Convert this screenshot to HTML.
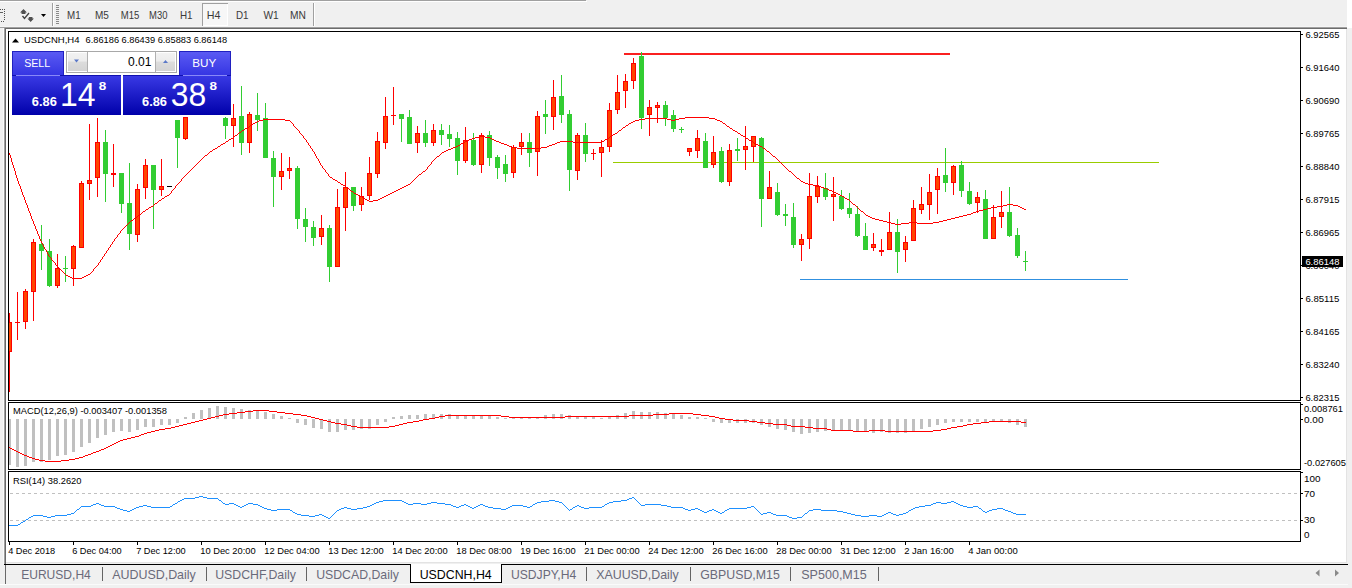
<!DOCTYPE html>
<html><head><meta charset="utf-8"><title>USDCNH,H4</title>
<style>html,body{margin:0;padding:0;width:1352px;height:588px;overflow:hidden;background:#f0f0f0;}svg{display:block;font-family:"Liberation Sans",sans-serif;}</style>
</head><body>
<svg width="1352" height="588" viewBox="0 0 1352 588" font-family='"Liberation Sans", sans-serif'><rect x="0" y="0" width="1352" height="588" fill="#f0f0f0"/>
<rect x="0" y="0" width="586" height="1" fill="#a0a0a0"/>
<rect x="0" y="1" width="587" height="1" fill="#ffffff"/>
<rect x="1347" y="0" width="5" height="28" fill="#ffffff"/>
<rect x="0" y="26" width="1347" height="1" fill="#f5f5f5"/>
<rect x="0" y="27" width="1347" height="1" fill="#a0a0a0"/>
<rect x="0" y="9" width="1" height="1" fill="#505050"/>
<rect x="2" y="9" width="1" height="1" fill="#505050"/>
<rect x="4" y="9" width="1" height="1" fill="#505050"/>
<rect x="4" y="11" width="1" height="1" fill="#505050"/>
<rect x="4" y="13" width="1" height="1" fill="#505050"/>
<rect x="4" y="15" width="1" height="1" fill="#505050"/>
<rect x="4" y="17" width="1" height="1" fill="#505050"/>
<rect x="4" y="19" width="1" height="1" fill="#505050"/>
<rect x="1" y="21" width="1" height="1" fill="#505050"/>
<rect x="3" y="21" width="1" height="1" fill="#505050"/>
<rect x="0" y="12" width="3" height="1" fill="#606060"/>
<path d="M20,12.5 L23.5,9 L27,12.5 L25.5,12.5 L25.5,14 L21.5,14 L21.5,12.5 Z" fill="#505050" stroke="#fff" stroke-width="0.7" paint-order="stroke"/>
<path d="M22.5,16 L24.5,18.5 L29,13" fill="none" stroke="#404040" stroke-width="1.3"/>
<path d="M28.8,17 L32.5,17 L32.5,18.5 L34,18.5 L30.7,22 L27.3,18.5 L28.8,18.5 Z" fill="#505050" stroke="#fff" stroke-width="0.7" paint-order="stroke"/>
<path d="M41,14 L46,14 L43.5,17 Z" fill="#000"/>
<rect x="52" y="3" width="1" height="23" fill="#a0a0a0"/>
<rect x="53" y="3" width="1" height="23" fill="#ffffff"/>
<rect x="56" y="5" width="3" height="1" fill="#8a8a8a"/>
<rect x="56" y="7" width="3" height="1" fill="#8a8a8a"/>
<rect x="56" y="9" width="3" height="1" fill="#8a8a8a"/>
<rect x="56" y="11" width="3" height="1" fill="#8a8a8a"/>
<rect x="56" y="13" width="3" height="1" fill="#8a8a8a"/>
<rect x="56" y="15" width="3" height="1" fill="#8a8a8a"/>
<rect x="56" y="17" width="3" height="1" fill="#8a8a8a"/>
<rect x="56" y="19" width="3" height="1" fill="#8a8a8a"/>
<rect x="56" y="21" width="3" height="1" fill="#8a8a8a"/>
<rect x="56" y="23" width="3" height="1" fill="#8a8a8a"/>
<rect x="202" y="3" width="26" height="23" fill="#f7f7f7"/>
<rect x="202" y="3" width="26" height="1" fill="#a0a0a0"/>
<rect x="202" y="3" width="1" height="23" fill="#a0a0a0"/>
<rect x="227" y="4" width="1" height="22" fill="#ffffff"/>
<rect x="203" y="25" width="25" height="1" fill="#ffffff"/>
<text x="67.0" y="19" font-size="10.4" fill="#3a3a3a" textLength="13.6" lengthAdjust="spacingAndGlyphs">M1</text>
<text x="94.9" y="19" font-size="10.4" fill="#3a3a3a" textLength="13.9" lengthAdjust="spacingAndGlyphs">M5</text>
<text x="120.80000000000001" y="19" font-size="10.4" fill="#3a3a3a" textLength="18.6" lengthAdjust="spacingAndGlyphs">M15</text>
<text x="149.0" y="19" font-size="10.4" fill="#3a3a3a" textLength="18.4" lengthAdjust="spacingAndGlyphs">M30</text>
<text x="180.0" y="19" font-size="10.4" fill="#3a3a3a" textLength="12.6" lengthAdjust="spacingAndGlyphs">H1</text>
<text x="206.70000000000002" y="19" font-size="10.4" fill="#3a3a3a" textLength="13.7" lengthAdjust="spacingAndGlyphs">H4</text>
<text x="236.0" y="19" font-size="10.4" fill="#3a3a3a" textLength="12.6" lengthAdjust="spacingAndGlyphs">D1</text>
<text x="263.4" y="19" font-size="10.4" fill="#3a3a3a" textLength="15.3" lengthAdjust="spacingAndGlyphs">W1</text>
<text x="289.9" y="19" font-size="10.4" fill="#3a3a3a" textLength="15.9" lengthAdjust="spacingAndGlyphs">MN</text>
<rect x="313" y="3" width="1" height="23" fill="#a0a0a0"/>
<rect x="314" y="3" width="1" height="23" fill="#ffffff"/>
<rect x="3" y="28" width="1" height="536" fill="#fafafa"/>
<rect x="4" y="28" width="1343" height="1" fill="#a0a0a0"/>
<rect x="4" y="28" width="1" height="536" fill="#a0a0a0"/>
<rect x="5" y="28" width="1" height="536" fill="#696969"/>
<rect x="5" y="28" width="1342" height="1" fill="#6c6c6c"/>
<rect x="6" y="29" width="1341" height="534" fill="#ffffff"/>
<rect x="1346" y="29" width="1" height="534" fill="#e3e3e3"/>
<rect x="6" y="562" width="1341" height="1" fill="#e3e3e3"/>
<g shape-rendering="crispEdges">
<rect x="624" y="53" width="326" height="2" fill="#fa2020"/>
<rect x="613" y="162" width="546" height="1" fill="#99cc00"/>
<rect x="800" y="279" width="328" height="1" fill="#3090e0"/>
</g>
<svg x="9" y="32" width="1291" height="368" viewBox="9 32 1291 368" overflow="hidden"><g shape-rendering="crispEdges"><rect x="9" y="313" width="1" height="79" fill="#ff0000"/><rect x="7" y="322" width="5" height="30" fill="#ff0000"/><rect x="8" y="323" width="3" height="28" fill="#ff4500"/><rect x="17" y="292" width="1" height="48" fill="#ff0000"/><rect x="15" y="322" width="5" height="1" fill="#ff0000"/><rect x="25" y="289" width="1" height="40" fill="#ff0000"/><rect x="23" y="291" width="5" height="31" fill="#ff0000"/><rect x="24" y="292" width="3" height="29" fill="#ff4500"/><rect x="33" y="239" width="1" height="82" fill="#ff0000"/><rect x="31" y="242" width="5" height="50" fill="#ff0000"/><rect x="32" y="243" width="3" height="48" fill="#ff4500"/><rect x="41" y="225" width="1" height="45" fill="#32cd32"/><rect x="39" y="244" width="5" height="7" fill="#32cd32"/><rect x="49" y="239" width="1" height="48" fill="#32cd32"/><rect x="47" y="251" width="5" height="35" fill="#32cd32"/><rect x="57" y="254" width="1" height="34" fill="#ff0000"/><rect x="55" y="268" width="5" height="18" fill="#ff0000"/><rect x="56" y="269" width="3" height="16" fill="#ff4500"/><rect x="65" y="256" width="1" height="26" fill="#32cd32"/><rect x="63" y="268" width="5" height="1" fill="#32cd32"/><rect x="73" y="245" width="1" height="41" fill="#ff0000"/><rect x="71" y="246" width="5" height="23" fill="#ff0000"/><rect x="72" y="247" width="3" height="21" fill="#ff4500"/><rect x="81" y="181" width="1" height="67" fill="#ff0000"/><rect x="79" y="183" width="5" height="65" fill="#ff0000"/><rect x="80" y="184" width="3" height="63" fill="#ff4500"/><rect x="89" y="124" width="1" height="76" fill="#ff0000"/><rect x="87" y="180" width="5" height="4" fill="#ff0000"/><rect x="88" y="181" width="3" height="2" fill="#ff4500"/><rect x="97" y="118" width="1" height="79" fill="#ff0000"/><rect x="95" y="142" width="5" height="36" fill="#ff0000"/><rect x="96" y="143" width="3" height="34" fill="#ff4500"/><rect x="105" y="130" width="1" height="72" fill="#32cd32"/><rect x="103" y="142" width="5" height="32" fill="#32cd32"/><rect x="113" y="144" width="1" height="43" fill="#ff0000"/><rect x="111" y="173" width="5" height="2" fill="#ff0000"/><rect x="121" y="173" width="1" height="40" fill="#32cd32"/><rect x="119" y="173" width="5" height="31" fill="#32cd32"/><rect x="129" y="163" width="1" height="87" fill="#32cd32"/><rect x="127" y="203" width="5" height="31" fill="#32cd32"/><rect x="137" y="184" width="1" height="58" fill="#ff0000"/><rect x="135" y="189" width="5" height="46" fill="#ff0000"/><rect x="136" y="190" width="3" height="44" fill="#ff4500"/><rect x="145" y="159" width="1" height="40" fill="#ff0000"/><rect x="143" y="165" width="5" height="23" fill="#ff0000"/><rect x="144" y="166" width="3" height="21" fill="#ff4500"/><rect x="153" y="165" width="1" height="64" fill="#32cd32"/><rect x="151" y="165" width="5" height="25" fill="#32cd32"/><rect x="161" y="159" width="1" height="37" fill="#ff0000"/><rect x="159" y="186" width="5" height="4" fill="#ff0000"/><rect x="160" y="187" width="3" height="2" fill="#ff4500"/><rect x="167" y="186" width="5" height="1" fill="#000"/><rect x="177" y="120" width="1" height="48" fill="#32cd32"/><rect x="175" y="120" width="5" height="18" fill="#32cd32"/><rect x="185" y="117" width="1" height="23" fill="#ff0000"/><rect x="183" y="117" width="5" height="22" fill="#ff0000"/><rect x="184" y="118" width="3" height="20" fill="#ff4500"/><rect x="225" y="117" width="1" height="22" fill="#32cd32"/><rect x="223" y="118" width="5" height="8" fill="#32cd32"/><rect x="233" y="104" width="1" height="43" fill="#ff0000"/><rect x="231" y="118" width="5" height="8" fill="#ff0000"/><rect x="232" y="119" width="3" height="6" fill="#ff4500"/><rect x="241" y="86" width="1" height="69" fill="#32cd32"/><rect x="239" y="116" width="5" height="27" fill="#32cd32"/><rect x="249" y="112" width="1" height="41" fill="#ff0000"/><rect x="247" y="114" width="5" height="29" fill="#ff0000"/><rect x="248" y="115" width="3" height="27" fill="#ff4500"/><rect x="257" y="93" width="1" height="38" fill="#32cd32"/><rect x="255" y="115" width="5" height="5" fill="#32cd32"/><rect x="265" y="103" width="1" height="55" fill="#32cd32"/><rect x="263" y="118" width="5" height="40" fill="#32cd32"/><rect x="273" y="151" width="1" height="56" fill="#32cd32"/><rect x="271" y="158" width="5" height="19" fill="#32cd32"/><rect x="281" y="153" width="1" height="37" fill="#ff0000"/><rect x="279" y="171" width="5" height="6" fill="#ff0000"/><rect x="280" y="172" width="3" height="4" fill="#ff4500"/><rect x="289" y="157" width="1" height="22" fill="#ff0000"/><rect x="287" y="168" width="5" height="3" fill="#ff0000"/><rect x="288" y="169" width="3" height="1" fill="#ff4500"/><rect x="297" y="166" width="1" height="63" fill="#32cd32"/><rect x="295" y="168" width="5" height="51" fill="#32cd32"/><rect x="305" y="208" width="1" height="34" fill="#32cd32"/><rect x="303" y="219" width="5" height="8" fill="#32cd32"/><rect x="313" y="221" width="1" height="25" fill="#32cd32"/><rect x="311" y="227" width="5" height="11" fill="#32cd32"/><rect x="321" y="215" width="1" height="30" fill="#ff0000"/><rect x="319" y="228" width="5" height="9" fill="#ff0000"/><rect x="320" y="229" width="3" height="7" fill="#ff4500"/><rect x="329" y="225" width="1" height="57" fill="#32cd32"/><rect x="327" y="228" width="5" height="39" fill="#32cd32"/><rect x="337" y="189" width="1" height="78" fill="#ff0000"/><rect x="335" y="207" width="5" height="60" fill="#ff0000"/><rect x="336" y="208" width="3" height="58" fill="#ff4500"/><rect x="345" y="172" width="1" height="59" fill="#ff0000"/><rect x="343" y="187" width="5" height="21" fill="#ff0000"/><rect x="344" y="188" width="3" height="19" fill="#ff4500"/><rect x="353" y="187" width="1" height="24" fill="#32cd32"/><rect x="351" y="187" width="5" height="19" fill="#32cd32"/><rect x="361" y="187" width="1" height="24" fill="#ff0000"/><rect x="359" y="196" width="5" height="9" fill="#ff0000"/><rect x="360" y="197" width="3" height="7" fill="#ff4500"/><rect x="369" y="157" width="1" height="43" fill="#ff0000"/><rect x="367" y="173" width="5" height="23" fill="#ff0000"/><rect x="368" y="174" width="3" height="21" fill="#ff4500"/><rect x="377" y="132" width="1" height="46" fill="#ff0000"/><rect x="375" y="141" width="5" height="33" fill="#ff0000"/><rect x="376" y="142" width="3" height="31" fill="#ff4500"/><rect x="385" y="97" width="1" height="52" fill="#ff0000"/><rect x="383" y="116" width="5" height="27" fill="#ff0000"/><rect x="384" y="117" width="3" height="25" fill="#ff4500"/><rect x="393" y="87" width="1" height="38" fill="#ff0000"/><rect x="391" y="115" width="5" height="1" fill="#ff0000"/><rect x="401" y="114" width="1" height="28" fill="#32cd32"/><rect x="399" y="114" width="5" height="5" fill="#32cd32"/><rect x="409" y="110" width="1" height="34" fill="#32cd32"/><rect x="407" y="117" width="5" height="27" fill="#32cd32"/><rect x="417" y="126" width="1" height="27" fill="#ff0000"/><rect x="415" y="133" width="5" height="10" fill="#ff0000"/><rect x="416" y="134" width="3" height="8" fill="#ff4500"/><rect x="425" y="120" width="1" height="27" fill="#32cd32"/><rect x="423" y="133" width="5" height="10" fill="#32cd32"/><rect x="433" y="124" width="1" height="22" fill="#ff0000"/><rect x="431" y="130" width="5" height="13" fill="#ff0000"/><rect x="432" y="131" width="3" height="11" fill="#ff4500"/><rect x="441" y="124" width="1" height="21" fill="#32cd32"/><rect x="439" y="130" width="5" height="5" fill="#32cd32"/><rect x="449" y="125" width="1" height="22" fill="#32cd32"/><rect x="447" y="134" width="5" height="5" fill="#32cd32"/><rect x="457" y="132" width="1" height="43" fill="#32cd32"/><rect x="455" y="138" width="5" height="23" fill="#32cd32"/><rect x="465" y="127" width="1" height="36" fill="#ff0000"/><rect x="463" y="140" width="5" height="21" fill="#ff0000"/><rect x="464" y="141" width="3" height="19" fill="#ff4500"/><rect x="473" y="133" width="1" height="33" fill="#32cd32"/><rect x="471" y="140" width="5" height="25" fill="#32cd32"/><rect x="481" y="133" width="1" height="40" fill="#ff0000"/><rect x="479" y="135" width="5" height="30" fill="#ff0000"/><rect x="480" y="136" width="3" height="28" fill="#ff4500"/><rect x="489" y="131" width="1" height="35" fill="#32cd32"/><rect x="487" y="135" width="5" height="23" fill="#32cd32"/><rect x="497" y="155" width="1" height="24" fill="#32cd32"/><rect x="495" y="157" width="5" height="11" fill="#32cd32"/><rect x="505" y="155" width="1" height="27" fill="#32cd32"/><rect x="503" y="164" width="5" height="10" fill="#32cd32"/><rect x="513" y="145" width="1" height="33" fill="#ff0000"/><rect x="511" y="147" width="5" height="26" fill="#ff0000"/><rect x="512" y="148" width="3" height="24" fill="#ff4500"/><rect x="521" y="133" width="1" height="22" fill="#ff0000"/><rect x="519" y="142" width="5" height="5" fill="#ff0000"/><rect x="520" y="143" width="3" height="3" fill="#ff4500"/><rect x="529" y="133" width="1" height="34" fill="#32cd32"/><rect x="527" y="142" width="5" height="11" fill="#32cd32"/><rect x="537" y="111" width="1" height="65" fill="#ff0000"/><rect x="535" y="116" width="5" height="36" fill="#ff0000"/><rect x="536" y="117" width="3" height="34" fill="#ff4500"/><rect x="545" y="100" width="1" height="34" fill="#32cd32"/><rect x="543" y="114" width="5" height="3" fill="#32cd32"/><rect x="553" y="80" width="1" height="50" fill="#ff0000"/><rect x="551" y="97" width="5" height="20" fill="#ff0000"/><rect x="552" y="98" width="3" height="18" fill="#ff4500"/><rect x="561" y="75" width="1" height="48" fill="#32cd32"/><rect x="559" y="96" width="5" height="19" fill="#32cd32"/><rect x="569" y="110" width="1" height="81" fill="#32cd32"/><rect x="567" y="114" width="5" height="56" fill="#32cd32"/><rect x="577" y="133" width="1" height="47" fill="#ff0000"/><rect x="575" y="135" width="5" height="36" fill="#ff0000"/><rect x="576" y="136" width="3" height="34" fill="#ff4500"/><rect x="585" y="123" width="1" height="39" fill="#32cd32"/><rect x="583" y="135" width="5" height="19" fill="#32cd32"/><rect x="593" y="149" width="1" height="11" fill="#ff0000"/><rect x="591" y="153" width="5" height="1" fill="#ff0000"/><rect x="601" y="140" width="1" height="37" fill="#ff0000"/><rect x="599" y="147" width="5" height="6" fill="#ff0000"/><rect x="600" y="148" width="3" height="4" fill="#ff4500"/><rect x="609" y="103" width="1" height="49" fill="#ff0000"/><rect x="607" y="110" width="5" height="37" fill="#ff0000"/><rect x="608" y="111" width="3" height="35" fill="#ff4500"/><rect x="617" y="75" width="1" height="39" fill="#ff0000"/><rect x="615" y="92" width="5" height="18" fill="#ff0000"/><rect x="616" y="93" width="3" height="16" fill="#ff4500"/><rect x="625" y="74" width="1" height="34" fill="#ff0000"/><rect x="623" y="81" width="5" height="10" fill="#ff0000"/><rect x="624" y="82" width="3" height="8" fill="#ff4500"/><rect x="633" y="58" width="1" height="31" fill="#ff0000"/><rect x="631" y="63" width="5" height="18" fill="#ff0000"/><rect x="632" y="64" width="3" height="16" fill="#ff4500"/><rect x="641" y="52" width="1" height="77" fill="#32cd32"/><rect x="639" y="56" width="5" height="62" fill="#32cd32"/><rect x="649" y="100" width="1" height="36" fill="#ff0000"/><rect x="647" y="107" width="5" height="8" fill="#ff0000"/><rect x="648" y="108" width="3" height="6" fill="#ff4500"/><rect x="657" y="102" width="1" height="21" fill="#ff0000"/><rect x="655" y="105" width="5" height="3" fill="#ff0000"/><rect x="656" y="106" width="3" height="1" fill="#ff4500"/><rect x="665" y="101" width="1" height="25" fill="#32cd32"/><rect x="663" y="105" width="5" height="13" fill="#32cd32"/><rect x="673" y="110" width="1" height="22" fill="#32cd32"/><rect x="671" y="115" width="5" height="14" fill="#32cd32"/><rect x="681" y="127" width="1" height="6" fill="#32cd32"/><rect x="679" y="129" width="5" height="1" fill="#32cd32"/><rect x="689" y="148" width="1" height="8" fill="#ff0000"/><rect x="687" y="148" width="5" height="4" fill="#ff0000"/><rect x="688" y="149" width="3" height="2" fill="#ff4500"/><rect x="697" y="130" width="1" height="28" fill="#ff0000"/><rect x="695" y="138" width="5" height="13" fill="#ff0000"/><rect x="696" y="139" width="3" height="11" fill="#ff4500"/><rect x="705" y="133" width="1" height="35" fill="#32cd32"/><rect x="703" y="141" width="5" height="27" fill="#32cd32"/><rect x="713" y="136" width="1" height="32" fill="#ff0000"/><rect x="711" y="152" width="5" height="13" fill="#ff0000"/><rect x="712" y="153" width="3" height="11" fill="#ff4500"/><rect x="721" y="147" width="1" height="36" fill="#32cd32"/><rect x="719" y="151" width="5" height="31" fill="#32cd32"/><rect x="729" y="144" width="1" height="42" fill="#ff0000"/><rect x="727" y="150" width="5" height="32" fill="#ff0000"/><rect x="728" y="151" width="3" height="30" fill="#ff4500"/><rect x="737" y="138" width="1" height="23" fill="#32cd32"/><rect x="735" y="149" width="5" height="2" fill="#32cd32"/><rect x="745" y="126" width="1" height="44" fill="#ff0000"/><rect x="743" y="146" width="5" height="4" fill="#ff0000"/><rect x="744" y="147" width="3" height="2" fill="#ff4500"/><rect x="753" y="136" width="1" height="26" fill="#ff0000"/><rect x="751" y="136" width="5" height="11" fill="#ff0000"/><rect x="752" y="137" width="3" height="9" fill="#ff4500"/><rect x="761" y="137" width="1" height="90" fill="#32cd32"/><rect x="759" y="138" width="5" height="61" fill="#32cd32"/><rect x="769" y="171" width="1" height="28" fill="#ff0000"/><rect x="767" y="187" width="5" height="12" fill="#ff0000"/><rect x="768" y="188" width="3" height="10" fill="#ff4500"/><rect x="777" y="183" width="1" height="33" fill="#32cd32"/><rect x="775" y="192" width="5" height="23" fill="#32cd32"/><rect x="785" y="204" width="1" height="22" fill="#32cd32"/><rect x="783" y="214" width="5" height="2" fill="#32cd32"/><rect x="793" y="203" width="1" height="45" fill="#32cd32"/><rect x="791" y="217" width="5" height="28" fill="#32cd32"/><rect x="801" y="234" width="1" height="27" fill="#ff0000"/><rect x="799" y="239" width="5" height="6" fill="#ff0000"/><rect x="800" y="240" width="3" height="4" fill="#ff4500"/><rect x="809" y="173" width="1" height="76" fill="#ff0000"/><rect x="807" y="196" width="5" height="43" fill="#ff0000"/><rect x="808" y="197" width="3" height="41" fill="#ff4500"/><rect x="817" y="176" width="1" height="27" fill="#ff0000"/><rect x="815" y="186" width="5" height="11" fill="#ff0000"/><rect x="816" y="187" width="3" height="9" fill="#ff4500"/><rect x="825" y="173" width="1" height="27" fill="#32cd32"/><rect x="823" y="188" width="5" height="9" fill="#32cd32"/><rect x="833" y="177" width="1" height="44" fill="#ff0000"/><rect x="831" y="194" width="5" height="3" fill="#ff0000"/><rect x="832" y="195" width="3" height="1" fill="#ff4500"/><rect x="841" y="190" width="1" height="20" fill="#32cd32"/><rect x="839" y="196" width="5" height="13" fill="#32cd32"/><rect x="849" y="193" width="1" height="25" fill="#32cd32"/><rect x="847" y="208" width="5" height="6" fill="#32cd32"/><rect x="857" y="206" width="1" height="31" fill="#32cd32"/><rect x="855" y="214" width="5" height="22" fill="#32cd32"/><rect x="865" y="223" width="1" height="27" fill="#32cd32"/><rect x="863" y="236" width="5" height="14" fill="#32cd32"/><rect x="873" y="233" width="1" height="18" fill="#ff0000"/><rect x="871" y="244" width="5" height="4" fill="#ff0000"/><rect x="872" y="245" width="3" height="2" fill="#ff4500"/><rect x="881" y="239" width="1" height="17" fill="#ff0000"/><rect x="879" y="250" width="5" height="2" fill="#ff0000"/><rect x="889" y="212" width="1" height="38" fill="#ff0000"/><rect x="887" y="232" width="5" height="18" fill="#ff0000"/><rect x="888" y="233" width="3" height="16" fill="#ff4500"/><rect x="897" y="219" width="1" height="54" fill="#32cd32"/><rect x="895" y="232" width="5" height="20" fill="#32cd32"/><rect x="905" y="236" width="1" height="26" fill="#ff0000"/><rect x="903" y="242" width="5" height="8" fill="#ff0000"/><rect x="904" y="243" width="3" height="6" fill="#ff4500"/><rect x="913" y="200" width="1" height="41" fill="#ff0000"/><rect x="911" y="208" width="5" height="33" fill="#ff0000"/><rect x="912" y="209" width="3" height="31" fill="#ff4500"/><rect x="921" y="187" width="1" height="27" fill="#ff0000"/><rect x="919" y="204" width="5" height="6" fill="#ff0000"/><rect x="920" y="205" width="3" height="4" fill="#ff4500"/><rect x="929" y="174" width="1" height="46" fill="#ff0000"/><rect x="927" y="192" width="5" height="13" fill="#ff0000"/><rect x="928" y="193" width="3" height="11" fill="#ff4500"/><rect x="937" y="168" width="1" height="46" fill="#ff0000"/><rect x="935" y="176" width="5" height="14" fill="#ff0000"/><rect x="936" y="177" width="3" height="12" fill="#ff4500"/><rect x="945" y="148" width="1" height="44" fill="#32cd32"/><rect x="943" y="175" width="5" height="8" fill="#32cd32"/><rect x="953" y="165" width="1" height="30" fill="#ff0000"/><rect x="951" y="166" width="5" height="17" fill="#ff0000"/><rect x="952" y="167" width="3" height="15" fill="#ff4500"/><rect x="961" y="161" width="1" height="36" fill="#32cd32"/><rect x="959" y="165" width="5" height="26" fill="#32cd32"/><rect x="969" y="182" width="1" height="23" fill="#32cd32"/><rect x="967" y="191" width="5" height="13" fill="#32cd32"/><rect x="977" y="192" width="1" height="21" fill="#ff0000"/><rect x="975" y="197" width="5" height="6" fill="#ff0000"/><rect x="976" y="198" width="3" height="4" fill="#ff4500"/><rect x="985" y="190" width="1" height="49" fill="#32cd32"/><rect x="983" y="199" width="5" height="40" fill="#32cd32"/><rect x="993" y="205" width="1" height="34" fill="#ff0000"/><rect x="991" y="217" width="5" height="22" fill="#ff0000"/><rect x="992" y="218" width="3" height="20" fill="#ff4500"/><rect x="1001" y="191" width="1" height="37" fill="#ff0000"/><rect x="999" y="212" width="5" height="5" fill="#ff0000"/><rect x="1000" y="213" width="3" height="3" fill="#ff4500"/><rect x="1009" y="187" width="1" height="50" fill="#32cd32"/><rect x="1007" y="212" width="5" height="24" fill="#32cd32"/><rect x="1017" y="228" width="1" height="30" fill="#32cd32"/><rect x="1015" y="235" width="5" height="21" fill="#32cd32"/><rect x="1025" y="251" width="1" height="20" fill="#32cd32"/><rect x="1023" y="261" width="5" height="1" fill="#32cd32"/></g>
<path d="M9 153h1v2h-1zM10 155h1v3h-1zM11 158h1v4h-1zM12 162h1v3h-1zM13 165h1v3h-1zM14 168h1v3h-1zM15 171h1v4h-1zM16 175h1v3h-1zM17 178h1v3h-1zM18 181h1v3h-1zM19 184h1v2h-1zM20 186h1v3h-1zM21 189h1v3h-1zM22 192h1v3h-1zM23 195h1v2h-1zM24 197h1v3h-1zM25 200h1v3h-1zM26 203h1v2h-1zM27 205h1v3h-1zM28 208h1v3h-1zM29 211h1v2h-1zM30 213h1v3h-1zM31 216h1v3h-1zM32 219h1v2h-1zM33 221h1v3h-1zM34 224h1v2h-1zM35 226h1v3h-1zM36 229h1v2h-1zM37 231h1v3h-1zM38 234h1v2h-1zM39 236h1v3h-1zM40 239h1v2h-1zM41 241h1v2h-1zM42 243h1v2h-1zM43 245h1v2h-1zM44 247h1v2h-1zM45 249h1v1h-1zM46 250h1v2h-1zM47 252h1v2h-1zM48 254h1v2h-1zM49 256h1v1h-1zM50 257h1v1h-1zM51 258h1v2h-1zM52 260h1v1h-1zM53 261h1v1h-1zM54 262h1v1h-1zM55 263h1v2h-1zM56 265h1v1h-1zM57 266h1v1h-1zM58 267h1v1h-1zM59 268h1v1h-1zM60 269h1v1h-1zM61 270h1v1h-1zM62 271h1v1h-1zM63 272h1v1h-1zM64 273h1v1h-1zM65 274h1v1h-1zM66 275h1v1h-1zM67 275h1v1h-1zM68 276h1v1h-1zM69 276h1v1h-1zM70 277h1v1h-1zM71 277h1v1h-1zM72 278h1v1h-1zM73 278h1v1h-1zM74 278h1v1h-1zM75 278h1v1h-1zM76 278h1v1h-1zM77 278h1v1h-1zM78 278h1v1h-1zM79 278h1v1h-1zM80 278h1v1h-1zM81 278h1v1h-1zM82 277h1v1h-1zM83 277h1v1h-1zM84 276h1v1h-1zM85 276h1v1h-1zM86 275h1v1h-1zM87 275h1v1h-1zM88 274h1v1h-1zM89 274h1v1h-1zM90 273h1v1h-1zM91 272h1v1h-1zM92 271h1v1h-1zM93 269h1v2h-1zM94 268h1v1h-1zM95 267h1v1h-1zM96 266h1v1h-1zM97 265h1v1h-1zM98 263h1v2h-1zM99 262h1v1h-1zM100 260h1v2h-1zM101 259h1v1h-1zM102 257h1v2h-1zM103 256h1v1h-1zM104 254h1v2h-1zM105 253h1v1h-1zM106 251h1v2h-1zM107 250h1v1h-1zM108 248h1v2h-1zM109 247h1v1h-1zM110 245h1v2h-1zM111 244h1v1h-1zM112 242h1v2h-1zM113 241h1v1h-1zM114 239h1v2h-1zM115 238h1v1h-1zM116 237h1v1h-1zM117 235h1v2h-1zM118 234h1v1h-1zM119 233h1v1h-1zM120 231h1v2h-1zM121 230h1v1h-1zM122 229h1v1h-1zM123 228h1v1h-1zM124 227h1v1h-1zM125 226h1v1h-1zM126 225h1v1h-1zM127 224h1v1h-1zM128 223h1v1h-1zM129 222h1v1h-1zM130 221h1v1h-1zM131 220h1v1h-1zM132 220h1v1h-1zM133 219h1v1h-1zM134 218h1v1h-1zM135 217h1v1h-1zM136 217h1v1h-1zM137 216h1v1h-1zM138 215h1v1h-1zM139 214h1v1h-1zM140 214h1v1h-1zM141 213h1v1h-1zM142 212h1v1h-1zM143 211h1v1h-1zM144 211h1v1h-1zM145 210h1v1h-1zM146 209h1v1h-1zM147 209h1v1h-1zM148 208h1v1h-1zM149 207h1v1h-1zM150 207h1v1h-1zM151 206h1v1h-1zM152 206h1v1h-1zM153 205h1v1h-1zM154 204h1v1h-1zM155 203h1v1h-1zM156 203h1v1h-1zM157 202h1v1h-1zM158 201h1v1h-1zM159 200h1v1h-1zM160 200h1v1h-1zM161 199h1v1h-1zM162 198h1v1h-1zM163 198h1v1h-1zM164 197h1v1h-1zM165 196h1v1h-1zM166 196h1v1h-1zM167 195h1v1h-1zM168 195h1v1h-1zM169 194h1v1h-1zM170 193h1v1h-1zM171 191h1v2h-1zM172 190h1v1h-1zM173 189h1v1h-1zM174 188h1v1h-1zM175 186h1v2h-1zM176 185h1v1h-1zM177 184h1v1h-1zM178 183h1v1h-1zM179 182h1v1h-1zM180 181h1v1h-1zM181 179h1v2h-1zM182 178h1v1h-1zM183 177h1v1h-1zM184 176h1v1h-1zM185 175h1v1h-1zM186 174h1v1h-1zM187 173h1v1h-1zM188 172h1v1h-1zM189 171h1v1h-1zM190 170h1v1h-1zM191 169h1v1h-1zM192 168h1v1h-1zM193 167h1v1h-1zM194 166h1v1h-1zM195 165h1v1h-1zM196 164h1v1h-1zM197 163h1v1h-1zM198 162h1v1h-1zM199 161h1v1h-1zM200 160h1v1h-1zM201 159h1v1h-1zM202 158h1v1h-1zM203 157h1v1h-1zM204 156h1v1h-1zM205 155h1v1h-1zM206 155h1v1h-1zM207 154h1v1h-1zM208 153h1v1h-1zM209 152h1v1h-1zM210 151h1v1h-1zM211 151h1v1h-1zM212 150h1v1h-1zM213 149h1v1h-1zM214 149h1v1h-1zM215 148h1v1h-1zM216 148h1v1h-1zM217 147h1v1h-1zM218 146h1v1h-1zM219 146h1v1h-1zM220 145h1v1h-1zM221 144h1v1h-1zM222 144h1v1h-1zM223 143h1v1h-1zM224 143h1v1h-1zM225 142h1v1h-1zM226 141h1v1h-1zM227 141h1v1h-1zM228 140h1v1h-1zM229 139h1v1h-1zM230 139h1v1h-1zM231 138h1v1h-1zM232 138h1v1h-1zM233 137h1v1h-1zM234 136h1v1h-1zM235 135h1v1h-1zM236 135h1v1h-1zM237 134h1v1h-1zM238 133h1v1h-1zM239 132h1v1h-1zM240 132h1v1h-1zM241 131h1v1h-1zM242 130h1v1h-1zM243 130h1v1h-1zM244 129h1v1h-1zM245 128h1v1h-1zM246 128h1v1h-1zM247 127h1v1h-1zM248 127h1v1h-1zM249 126h1v1h-1zM250 125h1v1h-1zM251 125h1v1h-1zM252 124h1v1h-1zM253 123h1v1h-1zM254 123h1v1h-1zM255 122h1v1h-1zM256 122h1v1h-1zM257 121h1v1h-1zM258 121h1v1h-1zM259 120h1v1h-1zM260 120h1v1h-1zM261 120h1v1h-1zM262 120h1v1h-1zM263 119h1v1h-1zM264 119h1v1h-1zM265 119h1v1h-1zM266 119h1v1h-1zM267 119h1v1h-1zM268 119h1v1h-1zM269 119h1v1h-1zM270 119h1v1h-1zM271 119h1v1h-1zM272 119h1v1h-1zM273 119h1v1h-1zM274 119h1v1h-1zM275 119h1v1h-1zM276 119h1v1h-1zM277 119h1v1h-1zM278 119h1v1h-1zM279 119h1v1h-1zM280 119h1v1h-1zM281 119h1v1h-1zM282 119h1v1h-1zM283 119h1v1h-1zM284 119h1v1h-1zM285 120h1v1h-1zM286 120h1v1h-1zM287 120h1v1h-1zM288 120h1v1h-1zM289 120h1v1h-1zM290 121h1v1h-1zM291 122h1v1h-1zM292 123h1v1h-1zM293 124h1v2h-1zM294 126h1v1h-1zM295 127h1v1h-1zM296 128h1v1h-1zM297 129h1v1h-1zM298 130h1v1h-1zM299 131h1v2h-1zM300 133h1v1h-1zM301 134h1v1h-1zM302 135h1v1h-1zM303 136h1v2h-1zM304 138h1v1h-1zM305 139h1v1h-1zM306 140h1v2h-1zM307 142h1v1h-1zM308 143h1v2h-1zM309 145h1v1h-1zM310 146h1v2h-1zM311 148h1v1h-1zM312 149h1v2h-1zM313 151h1v1h-1zM314 152h1v2h-1zM315 154h1v2h-1zM316 156h1v2h-1zM317 158h1v1h-1zM318 159h1v2h-1zM319 161h1v2h-1zM320 163h1v2h-1zM321 165h1v1h-1zM322 166h1v2h-1zM323 168h1v1h-1zM324 169h1v1h-1zM325 170h1v2h-1zM326 172h1v1h-1zM327 173h1v1h-1zM328 174h1v2h-1zM329 176h1v1h-1zM330 177h1v1h-1zM331 177h1v1h-1zM332 178h1v1h-1zM333 179h1v1h-1zM334 179h1v1h-1zM335 180h1v1h-1zM336 180h1v1h-1zM337 181h1v1h-1zM338 182h1v1h-1zM339 182h1v1h-1zM340 183h1v1h-1zM341 184h1v1h-1zM342 184h1v1h-1zM343 185h1v1h-1zM344 185h1v1h-1zM345 186h1v1h-1zM346 187h1v1h-1zM347 188h1v1h-1zM348 188h1v1h-1zM349 189h1v1h-1zM350 190h1v1h-1zM351 191h1v1h-1zM352 191h1v1h-1zM353 192h1v1h-1zM354 193h1v1h-1zM355 193h1v1h-1zM356 194h1v1h-1zM357 194h1v1h-1zM358 195h1v1h-1zM359 195h1v1h-1zM360 196h1v1h-1zM361 196h1v1h-1zM362 197h1v1h-1zM363 197h1v1h-1zM364 198h1v1h-1zM365 199h1v1h-1zM366 199h1v1h-1zM367 200h1v1h-1zM368 200h1v1h-1zM369 201h1v1h-1zM370 201h1v1h-1zM371 201h1v1h-1zM372 201h1v1h-1zM373 200h1v1h-1zM374 200h1v1h-1zM375 200h1v1h-1zM376 200h1v1h-1zM377 200h1v1h-1zM378 199h1v1h-1zM379 199h1v1h-1zM380 198h1v1h-1zM381 198h1v1h-1zM382 197h1v1h-1zM383 197h1v1h-1zM384 196h1v1h-1zM385 196h1v1h-1zM386 195h1v1h-1zM387 195h1v1h-1zM388 194h1v1h-1zM389 194h1v1h-1zM390 193h1v1h-1zM391 193h1v1h-1zM392 192h1v1h-1zM393 192h1v1h-1zM394 191h1v1h-1zM395 191h1v1h-1zM396 190h1v1h-1zM397 190h1v1h-1zM398 189h1v1h-1zM399 189h1v1h-1zM400 188h1v1h-1zM401 188h1v1h-1zM402 187h1v1h-1zM403 187h1v1h-1zM404 186h1v1h-1zM405 186h1v1h-1zM406 185h1v1h-1zM407 185h1v1h-1zM408 184h1v1h-1zM409 184h1v1h-1zM410 183h1v1h-1zM411 182h1v1h-1zM412 181h1v1h-1zM413 180h1v1h-1zM414 179h1v1h-1zM415 178h1v1h-1zM416 177h1v1h-1zM417 176h1v1h-1zM418 175h1v1h-1zM419 174h1v1h-1zM420 174h1v1h-1zM421 173h1v1h-1zM422 172h1v1h-1zM423 171h1v1h-1zM424 171h1v1h-1zM425 170h1v1h-1zM426 169h1v1h-1zM427 167h1v2h-1zM428 166h1v1h-1zM429 165h1v1h-1zM430 164h1v1h-1zM431 162h1v2h-1zM432 161h1v1h-1zM433 160h1v1h-1zM434 159h1v1h-1zM435 158h1v1h-1zM436 157h1v1h-1zM437 156h1v1h-1zM438 156h1v1h-1zM439 155h1v1h-1zM440 154h1v1h-1zM441 153h1v1h-1zM442 152h1v1h-1zM443 152h1v1h-1zM444 151h1v1h-1zM445 151h1v1h-1zM446 150h1v1h-1zM447 150h1v1h-1zM448 149h1v1h-1zM449 149h1v1h-1zM450 149h1v1h-1zM451 148h1v1h-1zM452 148h1v1h-1zM453 147h1v1h-1zM454 147h1v1h-1zM455 147h1v1h-1zM456 146h1v1h-1zM457 146h1v1h-1zM458 145h1v1h-1zM459 145h1v1h-1zM460 144h1v1h-1zM461 143h1v1h-1zM462 143h1v1h-1zM463 142h1v1h-1zM464 142h1v1h-1zM465 141h1v1h-1zM466 141h1v1h-1zM467 140h1v1h-1zM468 140h1v1h-1zM469 139h1v1h-1zM470 139h1v1h-1zM471 139h1v1h-1zM472 138h1v1h-1zM473 138h1v1h-1zM474 138h1v1h-1zM475 137h1v1h-1zM476 137h1v1h-1zM477 137h1v1h-1zM478 137h1v1h-1zM479 136h1v1h-1zM480 136h1v1h-1zM481 136h1v1h-1zM482 136h1v1h-1zM483 136h1v1h-1zM484 136h1v1h-1zM485 137h1v1h-1zM486 137h1v1h-1zM487 137h1v1h-1zM488 137h1v1h-1zM489 137h1v1h-1zM490 138h1v1h-1zM491 138h1v1h-1zM492 139h1v1h-1zM493 139h1v1h-1zM494 140h1v1h-1zM495 140h1v1h-1zM496 141h1v1h-1zM497 141h1v1h-1zM498 141h1v1h-1zM499 142h1v1h-1zM500 142h1v1h-1zM501 143h1v1h-1zM502 143h1v1h-1zM503 143h1v1h-1zM504 144h1v1h-1zM505 144h1v1h-1zM506 144h1v1h-1zM507 145h1v1h-1zM508 145h1v1h-1zM509 146h1v1h-1zM510 146h1v1h-1zM511 146h1v1h-1zM512 147h1v1h-1zM513 147h1v1h-1zM514 147h1v1h-1zM515 147h1v1h-1zM516 147h1v1h-1zM517 148h1v1h-1zM518 148h1v1h-1zM519 148h1v1h-1zM520 148h1v1h-1zM521 148h1v1h-1zM522 148h1v1h-1zM523 148h1v1h-1zM524 148h1v1h-1zM525 148h1v1h-1zM526 148h1v1h-1zM527 148h1v1h-1zM528 148h1v1h-1zM529 148h1v1h-1zM530 148h1v1h-1zM531 148h1v1h-1zM532 148h1v1h-1zM533 148h1v1h-1zM534 148h1v1h-1zM535 148h1v1h-1zM536 148h1v1h-1zM537 148h1v1h-1zM538 148h1v1h-1zM539 148h1v1h-1zM540 148h1v1h-1zM541 147h1v1h-1zM542 147h1v1h-1zM543 147h1v1h-1zM544 147h1v1h-1zM545 147h1v1h-1zM546 147h1v1h-1zM547 146h1v1h-1zM548 146h1v1h-1zM549 145h1v1h-1zM550 145h1v1h-1zM551 145h1v1h-1zM552 144h1v1h-1zM553 144h1v1h-1zM554 144h1v1h-1zM555 143h1v1h-1zM556 143h1v1h-1zM557 142h1v1h-1zM558 142h1v1h-1zM559 142h1v1h-1zM560 141h1v1h-1zM561 141h1v1h-1zM562 141h1v1h-1zM563 141h1v1h-1zM564 141h1v1h-1zM565 141h1v1h-1zM566 141h1v1h-1zM567 141h1v1h-1zM568 141h1v1h-1zM569 141h1v1h-1zM570 141h1v1h-1zM571 141h1v1h-1zM572 141h1v1h-1zM573 142h1v1h-1zM574 142h1v1h-1zM575 142h1v1h-1zM576 142h1v1h-1zM577 142h1v1h-1zM578 142h1v1h-1zM579 142h1v1h-1zM580 142h1v1h-1zM581 142h1v1h-1zM582 142h1v1h-1zM583 142h1v1h-1zM584 142h1v1h-1zM585 142h1v1h-1zM586 142h1v1h-1zM587 142h1v1h-1zM588 142h1v1h-1zM589 142h1v1h-1zM590 142h1v1h-1zM591 142h1v1h-1zM592 142h1v1h-1zM593 142h1v1h-1zM594 142h1v1h-1zM595 142h1v1h-1zM596 142h1v1h-1zM597 142h1v1h-1zM598 142h1v1h-1zM599 142h1v1h-1zM600 142h1v1h-1zM601 142h1v1h-1zM602 141h1v1h-1zM603 141h1v1h-1zM604 140h1v1h-1zM605 139h1v1h-1zM606 139h1v1h-1zM607 138h1v1h-1zM608 138h1v1h-1zM609 137h1v1h-1zM610 136h1v1h-1zM611 136h1v1h-1zM612 135h1v1h-1zM613 134h1v1h-1zM614 134h1v1h-1zM615 133h1v1h-1zM616 133h1v1h-1zM617 132h1v1h-1zM618 131h1v1h-1zM619 130h1v1h-1zM620 130h1v1h-1zM621 129h1v1h-1zM622 128h1v1h-1zM623 127h1v1h-1zM624 127h1v1h-1zM625 126h1v1h-1zM626 125h1v1h-1zM627 125h1v1h-1zM628 124h1v1h-1zM629 123h1v1h-1zM630 123h1v1h-1zM631 122h1v1h-1zM632 122h1v1h-1zM633 121h1v1h-1zM634 121h1v1h-1zM635 120h1v1h-1zM636 120h1v1h-1zM637 120h1v1h-1zM638 120h1v1h-1zM639 119h1v1h-1zM640 119h1v1h-1zM641 119h1v1h-1zM642 119h1v1h-1zM643 119h1v1h-1zM644 119h1v1h-1zM645 118h1v1h-1zM646 118h1v1h-1zM647 118h1v1h-1zM648 118h1v1h-1zM649 118h1v1h-1zM650 118h1v1h-1zM651 118h1v1h-1zM652 118h1v1h-1zM653 118h1v1h-1zM654 118h1v1h-1zM655 118h1v1h-1zM656 118h1v1h-1zM657 118h1v1h-1zM658 118h1v1h-1zM659 118h1v1h-1zM660 118h1v1h-1zM661 118h1v1h-1zM662 118h1v1h-1zM663 118h1v1h-1zM664 118h1v1h-1zM665 118h1v1h-1zM666 118h1v1h-1zM667 119h1v1h-1zM668 119h1v1h-1zM669 119h1v1h-1zM670 119h1v1h-1zM671 120h1v1h-1zM672 120h1v1h-1zM673 120h1v1h-1zM674 120h1v1h-1zM675 119h1v1h-1zM676 119h1v1h-1zM677 119h1v1h-1zM678 119h1v1h-1zM679 118h1v1h-1zM680 118h1v1h-1zM681 118h1v1h-1zM682 118h1v1h-1zM683 118h1v1h-1zM684 118h1v1h-1zM685 117h1v1h-1zM686 117h1v1h-1zM687 117h1v1h-1zM688 117h1v1h-1zM689 117h1v1h-1zM690 117h1v1h-1zM691 117h1v1h-1zM692 117h1v1h-1zM693 117h1v1h-1zM694 117h1v1h-1zM695 117h1v1h-1zM696 117h1v1h-1zM697 117h1v1h-1zM698 117h1v1h-1zM699 117h1v1h-1zM700 117h1v1h-1zM701 117h1v1h-1zM702 117h1v1h-1zM703 117h1v1h-1zM704 117h1v1h-1zM705 117h1v1h-1zM706 117h1v1h-1zM707 117h1v1h-1zM708 117h1v1h-1zM709 118h1v1h-1zM710 118h1v1h-1zM711 118h1v1h-1zM712 118h1v1h-1zM713 118h1v1h-1zM714 118h1v1h-1zM715 119h1v1h-1zM716 119h1v1h-1zM717 120h1v1h-1zM718 120h1v1h-1zM719 120h1v1h-1zM720 121h1v1h-1zM721 121h1v1h-1zM722 122h1v1h-1zM723 123h1v1h-1zM724 123h1v1h-1zM725 124h1v1h-1zM726 125h1v1h-1zM727 126h1v1h-1zM728 126h1v1h-1zM729 127h1v1h-1zM730 128h1v1h-1zM731 128h1v1h-1zM732 129h1v1h-1zM733 130h1v1h-1zM734 130h1v1h-1zM735 131h1v1h-1zM736 131h1v1h-1zM737 132h1v1h-1zM738 133h1v1h-1zM739 133h1v1h-1zM740 134h1v1h-1zM741 135h1v1h-1zM742 135h1v1h-1zM743 136h1v1h-1zM744 136h1v1h-1zM745 137h1v1h-1zM746 138h1v1h-1zM747 138h1v1h-1zM748 139h1v1h-1zM749 140h1v1h-1zM750 140h1v1h-1zM751 141h1v1h-1zM752 141h1v1h-1zM753 142h1v1h-1zM754 143h1v1h-1zM755 143h1v1h-1zM756 144h1v1h-1zM757 144h1v1h-1zM758 145h1v1h-1zM759 145h1v1h-1zM760 146h1v1h-1zM761 146h1v1h-1zM762 147h1v1h-1zM763 148h1v1h-1zM764 148h1v1h-1zM765 149h1v1h-1zM766 150h1v1h-1zM767 151h1v1h-1zM768 151h1v1h-1zM769 152h1v1h-1zM770 153h1v1h-1zM771 154h1v1h-1zM772 155h1v1h-1zM773 156h1v1h-1zM774 156h1v1h-1zM775 157h1v1h-1zM776 158h1v1h-1zM777 159h1v1h-1zM778 160h1v1h-1zM779 161h1v1h-1zM780 162h1v1h-1zM781 163h1v1h-1zM782 164h1v1h-1zM783 165h1v1h-1zM784 166h1v1h-1zM785 167h1v1h-1zM786 168h1v1h-1zM787 169h1v1h-1zM788 170h1v1h-1zM789 171h1v1h-1zM790 171h1v1h-1zM791 172h1v1h-1zM792 173h1v1h-1zM793 174h1v1h-1zM794 175h1v1h-1zM795 176h1v1h-1zM796 177h1v1h-1zM797 178h1v1h-1zM798 178h1v1h-1zM799 179h1v1h-1zM800 180h1v1h-1zM801 181h1v1h-1zM802 181h1v1h-1zM803 182h1v1h-1zM804 182h1v1h-1zM805 183h1v1h-1zM806 183h1v1h-1zM807 183h1v1h-1zM808 184h1v1h-1zM809 184h1v1h-1zM810 184h1v1h-1zM811 184h1v1h-1zM812 184h1v1h-1zM813 185h1v1h-1zM814 185h1v1h-1zM815 185h1v1h-1zM816 185h1v1h-1zM817 185h1v1h-1zM818 185h1v1h-1zM819 186h1v1h-1zM820 186h1v1h-1zM821 187h1v1h-1zM822 187h1v1h-1zM823 187h1v1h-1zM824 188h1v1h-1zM825 188h1v1h-1zM826 188h1v1h-1zM827 189h1v1h-1zM828 189h1v1h-1zM829 190h1v1h-1zM830 190h1v1h-1zM831 190h1v1h-1zM832 191h1v1h-1zM833 191h1v1h-1zM834 192h1v1h-1zM835 192h1v1h-1zM836 193h1v1h-1zM837 193h1v1h-1zM838 194h1v1h-1zM839 194h1v1h-1zM840 195h1v1h-1zM841 195h1v1h-1zM842 196h1v1h-1zM843 196h1v1h-1zM844 197h1v1h-1zM845 198h1v1h-1zM846 198h1v1h-1zM847 199h1v1h-1zM848 199h1v1h-1zM849 200h1v1h-1zM850 201h1v1h-1zM851 202h1v1h-1zM852 203h1v1h-1zM853 204h1v1h-1zM854 204h1v1h-1zM855 205h1v1h-1zM856 206h1v1h-1zM857 207h1v1h-1zM858 208h1v1h-1zM859 209h1v1h-1zM860 210h1v1h-1zM861 211h1v1h-1zM862 211h1v1h-1zM863 212h1v1h-1zM864 213h1v1h-1zM865 214h1v1h-1zM866 215h1v1h-1zM867 215h1v1h-1zM868 216h1v1h-1zM869 216h1v1h-1zM870 217h1v1h-1zM871 217h1v1h-1zM872 218h1v1h-1zM873 218h1v1h-1zM874 218h1v1h-1zM875 219h1v1h-1zM876 219h1v1h-1zM877 219h1v1h-1zM878 219h1v1h-1zM879 220h1v1h-1zM880 220h1v1h-1zM881 220h1v1h-1zM882 220h1v1h-1zM883 221h1v1h-1zM884 221h1v1h-1zM885 221h1v1h-1zM886 221h1v1h-1zM887 222h1v1h-1zM888 222h1v1h-1zM889 222h1v1h-1zM890 222h1v1h-1zM891 223h1v1h-1zM892 223h1v1h-1zM893 223h1v1h-1zM894 223h1v1h-1zM895 224h1v1h-1zM896 224h1v1h-1zM897 224h1v1h-1zM898 224h1v1h-1zM899 224h1v1h-1zM900 224h1v1h-1zM901 223h1v1h-1zM902 223h1v1h-1zM903 223h1v1h-1zM904 223h1v1h-1zM905 223h1v1h-1zM906 223h1v1h-1zM907 223h1v1h-1zM908 223h1v1h-1zM909 222h1v1h-1zM910 222h1v1h-1zM911 222h1v1h-1zM912 222h1v1h-1zM913 222h1v1h-1zM914 222h1v1h-1zM915 222h1v1h-1zM916 222h1v1h-1zM917 223h1v1h-1zM918 223h1v1h-1zM919 223h1v1h-1zM920 223h1v1h-1zM921 223h1v1h-1zM922 223h1v1h-1zM923 223h1v1h-1zM924 223h1v1h-1zM925 223h1v1h-1zM926 223h1v1h-1zM927 223h1v1h-1zM928 223h1v1h-1zM929 223h1v1h-1zM930 223h1v1h-1zM931 223h1v1h-1zM932 223h1v1h-1zM933 222h1v1h-1zM934 222h1v1h-1zM935 222h1v1h-1zM936 222h1v1h-1zM937 222h1v1h-1zM938 222h1v1h-1zM939 221h1v1h-1zM940 221h1v1h-1zM941 221h1v1h-1zM942 221h1v1h-1zM943 220h1v1h-1zM944 220h1v1h-1zM945 220h1v1h-1zM946 220h1v1h-1zM947 219h1v1h-1zM948 219h1v1h-1zM949 219h1v1h-1zM950 219h1v1h-1zM951 218h1v1h-1zM952 218h1v1h-1zM953 218h1v1h-1zM954 218h1v1h-1zM955 217h1v1h-1zM956 217h1v1h-1zM957 217h1v1h-1zM958 217h1v1h-1zM959 216h1v1h-1zM960 216h1v1h-1zM961 216h1v1h-1zM962 216h1v1h-1zM963 215h1v1h-1zM964 215h1v1h-1zM965 215h1v1h-1zM966 215h1v1h-1zM967 214h1v1h-1zM968 214h1v1h-1zM969 214h1v1h-1zM970 214h1v1h-1zM971 213h1v1h-1zM972 213h1v1h-1zM973 212h1v1h-1zM974 212h1v1h-1zM975 212h1v1h-1zM976 211h1v1h-1zM977 211h1v1h-1zM978 211h1v1h-1zM979 210h1v1h-1zM980 210h1v1h-1zM981 210h1v1h-1zM982 210h1v1h-1zM983 209h1v1h-1zM984 209h1v1h-1zM985 209h1v1h-1zM986 209h1v1h-1zM987 208h1v1h-1zM988 208h1v1h-1zM989 208h1v1h-1zM990 208h1v1h-1zM991 207h1v1h-1zM992 207h1v1h-1zM993 207h1v1h-1zM994 207h1v1h-1zM995 207h1v1h-1zM996 207h1v1h-1zM997 206h1v1h-1zM998 206h1v1h-1zM999 206h1v1h-1zM1000 206h1v1h-1zM1001 206h1v1h-1zM1002 206h1v1h-1zM1003 205h1v1h-1zM1004 205h1v1h-1zM1005 205h1v1h-1zM1006 205h1v1h-1zM1007 204h1v1h-1zM1008 204h1v1h-1zM1009 204h1v1h-1zM1010 204h1v1h-1zM1011 204h1v1h-1zM1012 204h1v1h-1zM1013 205h1v1h-1zM1014 205h1v1h-1zM1015 205h1v1h-1zM1016 205h1v1h-1zM1017 205h1v1h-1zM1018 206h1v1h-1zM1019 206h1v1h-1zM1020 207h1v1h-1zM1021 207h1v1h-1zM1022 208h1v1h-1zM1023 208h1v1h-1zM1024 209h1v1h-1zM1025 209h1v1h-1z" fill="#ff0000"/>
</svg>
<rect x="8" y="31" width="1293" height="1" fill="#000"/>
<rect x="8" y="400" width="1293" height="1" fill="#000"/>
<rect x="8" y="31" width="1" height="370" fill="#000"/>
<rect x="1300" y="31" width="1" height="370" fill="#000"/>
<rect x="1301" y="34" width="2" height="1" fill="#000"/>
<text x="1305.4" y="38" font-size="9.9" fill="#000" textLength="34" lengthAdjust="spacingAndGlyphs">6.92565</text>
<rect x="1301" y="67" width="2" height="1" fill="#000"/>
<text x="1305.4" y="71" font-size="9.9" fill="#000" textLength="34" lengthAdjust="spacingAndGlyphs">6.91640</text>
<rect x="1301" y="100" width="2" height="1" fill="#000"/>
<text x="1305.4" y="104" font-size="9.9" fill="#000" textLength="34" lengthAdjust="spacingAndGlyphs">6.90690</text>
<rect x="1301" y="133" width="2" height="1" fill="#000"/>
<text x="1305.4" y="137" font-size="9.9" fill="#000" textLength="34" lengthAdjust="spacingAndGlyphs">6.89765</text>
<rect x="1301" y="166" width="2" height="1" fill="#000"/>
<text x="1305.4" y="170" font-size="9.9" fill="#000" textLength="34" lengthAdjust="spacingAndGlyphs">6.88840</text>
<rect x="1301" y="199" width="2" height="1" fill="#000"/>
<text x="1305.4" y="203" font-size="9.9" fill="#000" textLength="34" lengthAdjust="spacingAndGlyphs">6.87915</text>
<rect x="1301" y="232" width="2" height="1" fill="#000"/>
<text x="1305.4" y="236" font-size="9.9" fill="#000" textLength="34" lengthAdjust="spacingAndGlyphs">6.86965</text>
<rect x="1301" y="265" width="2" height="1" fill="#000"/>
<text x="1305.4" y="269" font-size="9.9" fill="#000" textLength="34" lengthAdjust="spacingAndGlyphs">6.86040</text>
<rect x="1301" y="298" width="2" height="1" fill="#000"/>
<text x="1305.4" y="302" font-size="9.9" fill="#000" textLength="34" lengthAdjust="spacingAndGlyphs">6.85115</text>
<rect x="1301" y="331" width="2" height="1" fill="#000"/>
<text x="1305.4" y="335" font-size="9.9" fill="#000" textLength="34" lengthAdjust="spacingAndGlyphs">6.84165</text>
<rect x="1301" y="364" width="2" height="1" fill="#000"/>
<text x="1305.4" y="368" font-size="9.9" fill="#000" textLength="34" lengthAdjust="spacingAndGlyphs">6.83240</text>
<rect x="1301" y="397" width="2" height="1" fill="#000"/>
<text x="1305.4" y="401" font-size="9.9" fill="#000" textLength="34" lengthAdjust="spacingAndGlyphs">6.82315</text>
<rect x="1302" y="256" width="41" height="11" fill="#000"/>
<text x="1305.4" y="265" font-size="9.9" fill="#fff" textLength="34" lengthAdjust="spacingAndGlyphs">6.86148</text>
<path d="M12,42.5 L15.5,38.5 L19,42.5 Z" fill="#000"/>
<text x="24" y="43" font-size="9.9" fill="#000" textLength="55.5" lengthAdjust="spacingAndGlyphs">USDCNH,H4</text>
<text x="85.6" y="43" font-size="9.9" fill="#000" textLength="141.5" lengthAdjust="spacingAndGlyphs">6.86186 6.86439 6.85883 6.86148</text>
<rect x="8" y="402" width="1293" height="1" fill="#000"/>
<rect x="8" y="469" width="1293" height="1" fill="#000"/>
<rect x="8" y="402" width="1" height="68" fill="#000"/>
<rect x="1300" y="402" width="1" height="68" fill="#000"/>
<g shape-rendering="crispEdges"><rect x="9" y="419" width="2" height="46" fill="#c0c0c0"/><rect x="16" y="419" width="3" height="48" fill="#c0c0c0"/><rect x="24" y="419" width="3" height="47" fill="#c0c0c0"/><rect x="32" y="419" width="3" height="43" fill="#c0c0c0"/><rect x="40" y="419" width="3" height="43" fill="#c0c0c0"/><rect x="48" y="419" width="3" height="41" fill="#c0c0c0"/><rect x="56" y="419" width="3" height="37" fill="#c0c0c0"/><rect x="64" y="419" width="3" height="36" fill="#c0c0c0"/><rect x="72" y="419" width="3" height="33" fill="#c0c0c0"/><rect x="80" y="419" width="3" height="28" fill="#c0c0c0"/><rect x="88" y="419" width="3" height="24" fill="#c0c0c0"/><rect x="96" y="419" width="3" height="19" fill="#c0c0c0"/><rect x="104" y="419" width="3" height="16" fill="#c0c0c0"/><rect x="112" y="419" width="3" height="13" fill="#c0c0c0"/><rect x="120" y="419" width="3" height="12" fill="#c0c0c0"/><rect x="128" y="419" width="3" height="13" fill="#c0c0c0"/><rect x="136" y="419" width="3" height="11" fill="#c0c0c0"/><rect x="144" y="419" width="3" height="8" fill="#c0c0c0"/><rect x="152" y="419" width="3" height="8" fill="#c0c0c0"/><rect x="160" y="419" width="3" height="6" fill="#c0c0c0"/><rect x="168" y="419" width="3" height="6" fill="#c0c0c0"/><rect x="176" y="419" width="3" height="4" fill="#c0c0c0"/><rect x="184" y="417" width="3" height="2" fill="#c0c0c0"/><rect x="192" y="413" width="3" height="6" fill="#c0c0c0"/><rect x="200" y="410" width="3" height="9" fill="#c0c0c0"/><rect x="208" y="408" width="3" height="11" fill="#c0c0c0"/><rect x="216" y="406" width="3" height="13" fill="#c0c0c0"/><rect x="224" y="407" width="3" height="12" fill="#c0c0c0"/><rect x="232" y="408" width="3" height="11" fill="#c0c0c0"/><rect x="240" y="409" width="3" height="10" fill="#c0c0c0"/><rect x="248" y="410" width="3" height="9" fill="#c0c0c0"/><rect x="256" y="410" width="3" height="9" fill="#c0c0c0"/><rect x="264" y="412" width="3" height="7" fill="#c0c0c0"/><rect x="272" y="414" width="3" height="5" fill="#c0c0c0"/><rect x="280" y="416" width="3" height="3" fill="#c0c0c0"/><rect x="288" y="418" width="3" height="1" fill="#c0c0c0"/><rect x="296" y="419" width="3" height="4" fill="#c0c0c0"/><rect x="304" y="419" width="3" height="6" fill="#c0c0c0"/><rect x="312" y="419" width="3" height="9" fill="#c0c0c0"/><rect x="320" y="419" width="3" height="10" fill="#c0c0c0"/><rect x="328" y="419" width="3" height="13" fill="#c0c0c0"/><rect x="336" y="419" width="3" height="13" fill="#c0c0c0"/><rect x="344" y="419" width="3" height="11" fill="#c0c0c0"/><rect x="352" y="419" width="3" height="11" fill="#c0c0c0"/><rect x="360" y="419" width="3" height="10" fill="#c0c0c0"/><rect x="368" y="419" width="3" height="10" fill="#c0c0c0"/><rect x="376" y="419" width="3" height="6" fill="#c0c0c0"/><rect x="384" y="419" width="3" height="3" fill="#c0c0c0"/><rect x="392" y="417" width="3" height="2" fill="#c0c0c0"/><rect x="400" y="416" width="3" height="3" fill="#c0c0c0"/><rect x="408" y="415" width="3" height="4" fill="#c0c0c0"/><rect x="416" y="415" width="3" height="4" fill="#c0c0c0"/><rect x="424" y="414" width="3" height="5" fill="#c0c0c0"/><rect x="432" y="414" width="3" height="5" fill="#c0c0c0"/><rect x="440" y="414" width="3" height="5" fill="#c0c0c0"/><rect x="448" y="414" width="3" height="5" fill="#c0c0c0"/><rect x="456" y="415" width="3" height="4" fill="#c0c0c0"/><rect x="464" y="415" width="3" height="4" fill="#c0c0c0"/><rect x="472" y="415" width="3" height="4" fill="#c0c0c0"/><rect x="480" y="415" width="3" height="4" fill="#c0c0c0"/><rect x="488" y="415" width="3" height="4" fill="#c0c0c0"/><rect x="496" y="417" width="3" height="2" fill="#c0c0c0"/><rect x="504" y="418" width="3" height="1" fill="#c0c0c0"/><rect x="512" y="418" width="3" height="1" fill="#c0c0c0"/><rect x="520" y="417" width="3" height="2" fill="#c0c0c0"/><rect x="528" y="417" width="3" height="2" fill="#c0c0c0"/><rect x="536" y="417" width="3" height="2" fill="#c0c0c0"/><rect x="544" y="415" width="3" height="4" fill="#c0c0c0"/><rect x="552" y="414" width="3" height="5" fill="#c0c0c0"/><rect x="560" y="414" width="3" height="5" fill="#c0c0c0"/><rect x="568" y="415" width="3" height="4" fill="#c0c0c0"/><rect x="576" y="416" width="3" height="3" fill="#c0c0c0"/><rect x="584" y="416" width="3" height="3" fill="#c0c0c0"/><rect x="592" y="416" width="3" height="3" fill="#c0c0c0"/><rect x="600" y="418" width="3" height="1" fill="#c0c0c0"/><rect x="608" y="416" width="3" height="3" fill="#c0c0c0"/><rect x="616" y="415" width="3" height="4" fill="#c0c0c0"/><rect x="624" y="413" width="3" height="6" fill="#c0c0c0"/><rect x="632" y="411" width="3" height="8" fill="#c0c0c0"/><rect x="640" y="412" width="3" height="7" fill="#c0c0c0"/><rect x="648" y="412" width="3" height="7" fill="#c0c0c0"/><rect x="656" y="412" width="3" height="7" fill="#c0c0c0"/><rect x="664" y="413" width="3" height="6" fill="#c0c0c0"/><rect x="672" y="414" width="3" height="5" fill="#c0c0c0"/><rect x="680" y="415" width="3" height="4" fill="#c0c0c0"/><rect x="688" y="417" width="3" height="2" fill="#c0c0c0"/><rect x="696" y="417" width="3" height="2" fill="#c0c0c0"/><rect x="704" y="418" width="3" height="1" fill="#c0c0c0"/><rect x="712" y="419" width="3" height="3" fill="#c0c0c0"/><rect x="720" y="419" width="3" height="4" fill="#c0c0c0"/><rect x="728" y="419" width="3" height="4" fill="#c0c0c0"/><rect x="736" y="419" width="3" height="4" fill="#c0c0c0"/><rect x="744" y="419" width="3" height="4" fill="#c0c0c0"/><rect x="752" y="419" width="3" height="4" fill="#c0c0c0"/><rect x="760" y="419" width="3" height="6" fill="#c0c0c0"/><rect x="768" y="419" width="3" height="8" fill="#c0c0c0"/><rect x="776" y="419" width="3" height="10" fill="#c0c0c0"/><rect x="784" y="419" width="3" height="11" fill="#c0c0c0"/><rect x="792" y="419" width="3" height="13" fill="#c0c0c0"/><rect x="800" y="419" width="3" height="15" fill="#c0c0c0"/><rect x="808" y="419" width="3" height="14" fill="#c0c0c0"/><rect x="816" y="419" width="3" height="13" fill="#c0c0c0"/><rect x="824" y="419" width="3" height="12" fill="#c0c0c0"/><rect x="832" y="419" width="3" height="11" fill="#c0c0c0"/><rect x="840" y="419" width="3" height="11" fill="#c0c0c0"/><rect x="848" y="419" width="3" height="11" fill="#c0c0c0"/><rect x="856" y="419" width="3" height="12" fill="#c0c0c0"/><rect x="864" y="419" width="3" height="13" fill="#c0c0c0"/><rect x="872" y="419" width="3" height="14" fill="#c0c0c0"/><rect x="880" y="419" width="3" height="13" fill="#c0c0c0"/><rect x="888" y="419" width="3" height="14" fill="#c0c0c0"/><rect x="896" y="419" width="3" height="14" fill="#c0c0c0"/><rect x="904" y="419" width="3" height="14" fill="#c0c0c0"/><rect x="912" y="419" width="3" height="12" fill="#c0c0c0"/><rect x="920" y="419" width="3" height="10" fill="#c0c0c0"/><rect x="928" y="419" width="3" height="8" fill="#c0c0c0"/><rect x="936" y="419" width="3" height="6" fill="#c0c0c0"/><rect x="944" y="419" width="3" height="4" fill="#c0c0c0"/><rect x="952" y="419" width="3" height="3" fill="#c0c0c0"/><rect x="960" y="419" width="3" height="3" fill="#c0c0c0"/><rect x="968" y="419" width="3" height="3" fill="#c0c0c0"/><rect x="976" y="419" width="3" height="3" fill="#c0c0c0"/><rect x="984" y="419" width="3" height="4" fill="#c0c0c0"/><rect x="992" y="419" width="3" height="3" fill="#c0c0c0"/><rect x="1000" y="419" width="3" height="3" fill="#c0c0c0"/><rect x="1008" y="419" width="3" height="4" fill="#c0c0c0"/><rect x="1016" y="419" width="3" height="6" fill="#c0c0c0"/><rect x="1024" y="419" width="3" height="8" fill="#c0c0c0"/></g>
<path d="M9 447h1v1h-1zM10 448h1v1h-1zM11 448h1v1h-1zM12 449h1v1h-1zM13 449h1v1h-1zM14 450h1v1h-1zM15 450h1v1h-1zM16 451h1v1h-1zM17 451h1v1h-1zM18 452h1v1h-1zM19 452h1v1h-1zM20 453h1v1h-1zM21 453h1v1h-1zM22 454h1v1h-1zM23 454h1v1h-1zM24 455h1v1h-1zM25 455h1v1h-1zM26 455h1v1h-1zM27 456h1v1h-1zM28 456h1v1h-1zM29 457h1v1h-1zM30 457h1v1h-1zM31 457h1v1h-1zM32 458h1v1h-1zM33 458h1v1h-1zM34 458h1v1h-1zM35 459h1v1h-1zM36 459h1v1h-1zM37 459h1v1h-1zM38 459h1v1h-1zM39 460h1v1h-1zM40 460h1v1h-1zM41 460h1v1h-1zM42 460h1v1h-1zM43 460h1v1h-1zM44 460h1v1h-1zM45 461h1v1h-1zM46 461h1v1h-1zM47 461h1v1h-1zM48 461h1v1h-1zM49 461h1v1h-1zM50 461h1v1h-1zM51 461h1v1h-1zM52 461h1v1h-1zM53 461h1v1h-1zM54 461h1v1h-1zM55 461h1v1h-1zM56 461h1v1h-1zM57 461h1v1h-1zM58 461h1v1h-1zM59 461h1v1h-1zM60 461h1v1h-1zM61 460h1v1h-1zM62 460h1v1h-1zM63 460h1v1h-1zM64 460h1v1h-1zM65 460h1v1h-1zM66 460h1v1h-1zM67 460h1v1h-1zM68 460h1v1h-1zM69 459h1v1h-1zM70 459h1v1h-1zM71 459h1v1h-1zM72 459h1v1h-1zM73 459h1v1h-1zM74 459h1v1h-1zM75 458h1v1h-1zM76 458h1v1h-1zM77 458h1v1h-1zM78 458h1v1h-1zM79 457h1v1h-1zM80 457h1v1h-1zM81 457h1v1h-1zM82 457h1v1h-1zM83 456h1v1h-1zM84 456h1v1h-1zM85 455h1v1h-1zM86 455h1v1h-1zM87 455h1v1h-1zM88 454h1v1h-1zM89 454h1v1h-1zM90 454h1v1h-1zM91 453h1v1h-1zM92 453h1v1h-1zM93 452h1v1h-1zM94 452h1v1h-1zM95 452h1v1h-1zM96 451h1v1h-1zM97 451h1v1h-1zM98 451h1v1h-1zM99 450h1v1h-1zM100 450h1v1h-1zM101 449h1v1h-1zM102 449h1v1h-1zM103 449h1v1h-1zM104 448h1v1h-1zM105 448h1v1h-1zM106 447h1v1h-1zM107 447h1v1h-1zM108 446h1v1h-1zM109 446h1v1h-1zM110 445h1v1h-1zM111 445h1v1h-1zM112 444h1v1h-1zM113 444h1v1h-1zM114 443h1v1h-1zM115 443h1v1h-1zM116 442h1v1h-1zM117 442h1v1h-1zM118 441h1v1h-1zM119 441h1v1h-1zM120 440h1v1h-1zM121 440h1v1h-1zM122 440h1v1h-1zM123 439h1v1h-1zM124 439h1v1h-1zM125 439h1v1h-1zM126 439h1v1h-1zM127 438h1v1h-1zM128 438h1v1h-1zM129 438h1v1h-1zM130 438h1v1h-1zM131 437h1v1h-1zM132 437h1v1h-1zM133 437h1v1h-1zM134 437h1v1h-1zM135 436h1v1h-1zM136 436h1v1h-1zM137 436h1v1h-1zM138 436h1v1h-1zM139 435h1v1h-1zM140 435h1v1h-1zM141 434h1v1h-1zM142 434h1v1h-1zM143 434h1v1h-1zM144 433h1v1h-1zM145 433h1v1h-1zM146 433h1v1h-1zM147 432h1v1h-1zM148 432h1v1h-1zM149 432h1v1h-1zM150 432h1v1h-1zM151 431h1v1h-1zM152 431h1v1h-1zM153 431h1v1h-1zM154 431h1v1h-1zM155 430h1v1h-1zM156 430h1v1h-1zM157 430h1v1h-1zM158 430h1v1h-1zM159 429h1v1h-1zM160 429h1v1h-1zM161 429h1v1h-1zM162 429h1v1h-1zM163 429h1v1h-1zM164 429h1v1h-1zM165 428h1v1h-1zM166 428h1v1h-1zM167 428h1v1h-1zM168 428h1v1h-1zM169 428h1v1h-1zM170 428h1v1h-1zM171 427h1v1h-1zM172 427h1v1h-1zM173 427h1v1h-1zM174 427h1v1h-1zM175 426h1v1h-1zM176 426h1v1h-1zM177 426h1v1h-1zM178 426h1v1h-1zM179 425h1v1h-1zM180 425h1v1h-1zM181 425h1v1h-1zM182 425h1v1h-1zM183 424h1v1h-1zM184 424h1v1h-1zM185 424h1v1h-1zM186 424h1v1h-1zM187 423h1v1h-1zM188 423h1v1h-1zM189 423h1v1h-1zM190 423h1v1h-1zM191 422h1v1h-1zM192 422h1v1h-1zM193 422h1v1h-1zM194 422h1v1h-1zM195 421h1v1h-1zM196 421h1v1h-1zM197 421h1v1h-1zM198 421h1v1h-1zM199 420h1v1h-1zM200 420h1v1h-1zM201 420h1v1h-1zM202 420h1v1h-1zM203 419h1v1h-1zM204 419h1v1h-1zM205 419h1v1h-1zM206 419h1v1h-1zM207 418h1v1h-1zM208 418h1v1h-1zM209 418h1v1h-1zM210 418h1v1h-1zM211 417h1v1h-1zM212 417h1v1h-1zM213 417h1v1h-1zM214 417h1v1h-1zM215 416h1v1h-1zM216 416h1v1h-1zM217 416h1v1h-1zM218 416h1v1h-1zM219 415h1v1h-1zM220 415h1v1h-1zM221 415h1v1h-1zM222 415h1v1h-1zM223 414h1v1h-1zM224 414h1v1h-1zM225 414h1v1h-1zM226 414h1v1h-1zM227 414h1v1h-1zM228 414h1v1h-1zM229 413h1v1h-1zM230 413h1v1h-1zM231 413h1v1h-1zM232 413h1v1h-1zM233 413h1v1h-1zM234 413h1v1h-1zM235 413h1v1h-1zM236 413h1v1h-1zM237 412h1v1h-1zM238 412h1v1h-1zM239 412h1v1h-1zM240 412h1v1h-1zM241 412h1v1h-1zM242 412h1v1h-1zM243 412h1v1h-1zM244 412h1v1h-1zM245 411h1v1h-1zM246 411h1v1h-1zM247 411h1v1h-1zM248 411h1v1h-1zM249 411h1v1h-1zM250 411h1v1h-1zM251 411h1v1h-1zM252 411h1v1h-1zM253 410h1v1h-1zM254 410h1v1h-1zM255 410h1v1h-1zM256 410h1v1h-1zM257 410h1v1h-1zM258 410h1v1h-1zM259 410h1v1h-1zM260 410h1v1h-1zM261 410h1v1h-1zM262 410h1v1h-1zM263 410h1v1h-1zM264 410h1v1h-1zM265 410h1v1h-1zM266 410h1v1h-1zM267 410h1v1h-1zM268 410h1v1h-1zM269 411h1v1h-1zM270 411h1v1h-1zM271 411h1v1h-1zM272 411h1v1h-1zM273 411h1v1h-1zM274 411h1v1h-1zM275 411h1v1h-1zM276 411h1v1h-1zM277 412h1v1h-1zM278 412h1v1h-1zM279 412h1v1h-1zM280 412h1v1h-1zM281 412h1v1h-1zM282 412h1v1h-1zM283 412h1v1h-1zM284 412h1v1h-1zM285 413h1v1h-1zM286 413h1v1h-1zM287 413h1v1h-1zM288 413h1v1h-1zM289 413h1v1h-1zM290 413h1v1h-1zM291 413h1v1h-1zM292 413h1v1h-1zM293 414h1v1h-1zM294 414h1v1h-1zM295 414h1v1h-1zM296 414h1v1h-1zM297 414h1v1h-1zM298 414h1v1h-1zM299 414h1v1h-1zM300 414h1v1h-1zM301 415h1v1h-1zM302 415h1v1h-1zM303 415h1v1h-1zM304 415h1v1h-1zM305 415h1v1h-1zM306 415h1v1h-1zM307 416h1v1h-1zM308 416h1v1h-1zM309 416h1v1h-1zM310 416h1v1h-1zM311 417h1v1h-1zM312 417h1v1h-1zM313 417h1v1h-1zM314 417h1v1h-1zM315 418h1v1h-1zM316 418h1v1h-1zM317 418h1v1h-1zM318 418h1v1h-1zM319 419h1v1h-1zM320 419h1v1h-1zM321 419h1v1h-1zM322 419h1v1h-1zM323 420h1v1h-1zM324 420h1v1h-1zM325 420h1v1h-1zM326 420h1v1h-1zM327 421h1v1h-1zM328 421h1v1h-1zM329 421h1v1h-1zM330 421h1v1h-1zM331 422h1v1h-1zM332 422h1v1h-1zM333 422h1v1h-1zM334 422h1v1h-1zM335 423h1v1h-1zM336 423h1v1h-1zM337 423h1v1h-1zM338 423h1v1h-1zM339 423h1v1h-1zM340 423h1v1h-1zM341 424h1v1h-1zM342 424h1v1h-1zM343 424h1v1h-1zM344 424h1v1h-1zM345 424h1v1h-1zM346 424h1v1h-1zM347 425h1v1h-1zM348 425h1v1h-1zM349 425h1v1h-1zM350 425h1v1h-1zM351 426h1v1h-1zM352 426h1v1h-1zM353 426h1v1h-1zM354 426h1v1h-1zM355 426h1v1h-1zM356 426h1v1h-1zM357 427h1v1h-1zM358 427h1v1h-1zM359 427h1v1h-1zM360 427h1v1h-1zM361 427h1v1h-1zM362 427h1v1h-1zM363 427h1v1h-1zM364 427h1v1h-1zM365 427h1v1h-1zM366 427h1v1h-1zM367 427h1v1h-1zM368 427h1v1h-1zM369 427h1v1h-1zM370 427h1v1h-1zM371 427h1v1h-1zM372 427h1v1h-1zM373 427h1v1h-1zM374 427h1v1h-1zM375 427h1v1h-1zM376 427h1v1h-1zM377 427h1v1h-1zM378 427h1v1h-1zM379 427h1v1h-1zM380 427h1v1h-1zM381 427h1v1h-1zM382 427h1v1h-1zM383 427h1v1h-1zM384 427h1v1h-1zM385 427h1v1h-1zM386 427h1v1h-1zM387 427h1v1h-1zM388 427h1v1h-1zM389 426h1v1h-1zM390 426h1v1h-1zM391 426h1v1h-1zM392 426h1v1h-1zM393 426h1v1h-1zM394 426h1v1h-1zM395 425h1v1h-1zM396 425h1v1h-1zM397 425h1v1h-1zM398 425h1v1h-1zM399 424h1v1h-1zM400 424h1v1h-1zM401 424h1v1h-1zM402 424h1v1h-1zM403 423h1v1h-1zM404 423h1v1h-1zM405 423h1v1h-1zM406 423h1v1h-1zM407 422h1v1h-1zM408 422h1v1h-1zM409 422h1v1h-1zM410 422h1v1h-1zM411 422h1v1h-1zM412 422h1v1h-1zM413 421h1v1h-1zM414 421h1v1h-1zM415 421h1v1h-1zM416 421h1v1h-1zM417 421h1v1h-1zM418 421h1v1h-1zM419 420h1v1h-1zM420 420h1v1h-1zM421 420h1v1h-1zM422 420h1v1h-1zM423 419h1v1h-1zM424 419h1v1h-1zM425 419h1v1h-1zM426 419h1v1h-1zM427 419h1v1h-1zM428 419h1v1h-1zM429 418h1v1h-1zM430 418h1v1h-1zM431 418h1v1h-1zM432 418h1v1h-1zM433 418h1v1h-1zM434 418h1v1h-1zM435 417h1v1h-1zM436 417h1v1h-1zM437 417h1v1h-1zM438 417h1v1h-1zM439 416h1v1h-1zM440 416h1v1h-1zM441 416h1v1h-1zM442 416h1v1h-1zM443 416h1v1h-1zM444 416h1v1h-1zM445 415h1v1h-1zM446 415h1v1h-1zM447 415h1v1h-1zM448 415h1v1h-1zM449 415h1v1h-1zM450 415h1v1h-1zM451 415h1v1h-1zM452 415h1v1h-1zM453 415h1v1h-1zM454 415h1v1h-1zM455 415h1v1h-1zM456 415h1v1h-1zM457 415h1v1h-1zM458 415h1v1h-1zM459 415h1v1h-1zM460 415h1v1h-1zM461 415h1v1h-1zM462 415h1v1h-1zM463 415h1v1h-1zM464 415h1v1h-1zM465 415h1v1h-1zM466 415h1v1h-1zM467 415h1v1h-1zM468 415h1v1h-1zM469 415h1v1h-1zM470 415h1v1h-1zM471 415h1v1h-1zM472 415h1v1h-1zM473 415h1v1h-1zM474 415h1v1h-1zM475 415h1v1h-1zM476 415h1v1h-1zM477 415h1v1h-1zM478 415h1v1h-1zM479 415h1v1h-1zM480 415h1v1h-1zM481 415h1v1h-1zM482 415h1v1h-1zM483 415h1v1h-1zM484 415h1v1h-1zM485 415h1v1h-1zM486 415h1v1h-1zM487 415h1v1h-1zM488 415h1v1h-1zM489 415h1v1h-1zM490 415h1v1h-1zM491 415h1v1h-1zM492 415h1v1h-1zM493 415h1v1h-1zM494 415h1v1h-1zM495 415h1v1h-1zM496 415h1v1h-1zM497 415h1v1h-1zM498 415h1v1h-1zM499 415h1v1h-1zM500 415h1v1h-1zM501 416h1v1h-1zM502 416h1v1h-1zM503 416h1v1h-1zM504 416h1v1h-1zM505 416h1v1h-1zM506 416h1v1h-1zM507 416h1v1h-1zM508 416h1v1h-1zM509 417h1v1h-1zM510 417h1v1h-1zM511 417h1v1h-1zM512 417h1v1h-1zM513 417h1v1h-1zM514 417h1v1h-1zM515 417h1v1h-1zM516 417h1v1h-1zM517 417h1v1h-1zM518 417h1v1h-1zM519 417h1v1h-1zM520 417h1v1h-1zM521 417h1v1h-1zM522 417h1v1h-1zM523 417h1v1h-1zM524 417h1v1h-1zM525 417h1v1h-1zM526 417h1v1h-1zM527 417h1v1h-1zM528 417h1v1h-1zM529 417h1v1h-1zM530 417h1v1h-1zM531 417h1v1h-1zM532 417h1v1h-1zM533 417h1v1h-1zM534 417h1v1h-1zM535 417h1v1h-1zM536 417h1v1h-1zM537 417h1v1h-1zM538 417h1v1h-1zM539 417h1v1h-1zM540 417h1v1h-1zM541 417h1v1h-1zM542 417h1v1h-1zM543 417h1v1h-1zM544 417h1v1h-1zM545 417h1v1h-1zM546 417h1v1h-1zM547 417h1v1h-1zM548 417h1v1h-1zM549 417h1v1h-1zM550 417h1v1h-1zM551 417h1v1h-1zM552 417h1v1h-1zM553 417h1v1h-1zM554 417h1v1h-1zM555 417h1v1h-1zM556 417h1v1h-1zM557 417h1v1h-1zM558 417h1v1h-1zM559 417h1v1h-1zM560 417h1v1h-1zM561 417h1v1h-1zM562 417h1v1h-1zM563 417h1v1h-1zM564 417h1v1h-1zM565 416h1v1h-1zM566 416h1v1h-1zM567 416h1v1h-1zM568 416h1v1h-1zM569 416h1v1h-1zM570 416h1v1h-1zM571 416h1v1h-1zM572 416h1v1h-1zM573 416h1v1h-1zM574 416h1v1h-1zM575 416h1v1h-1zM576 416h1v1h-1zM577 416h1v1h-1zM578 416h1v1h-1zM579 416h1v1h-1zM580 416h1v1h-1zM581 416h1v1h-1zM582 416h1v1h-1zM583 416h1v1h-1zM584 416h1v1h-1zM585 416h1v1h-1zM586 416h1v1h-1zM587 416h1v1h-1zM588 416h1v1h-1zM589 416h1v1h-1zM590 416h1v1h-1zM591 416h1v1h-1zM592 416h1v1h-1zM593 416h1v1h-1zM594 416h1v1h-1zM595 416h1v1h-1zM596 416h1v1h-1zM597 416h1v1h-1zM598 416h1v1h-1zM599 416h1v1h-1zM600 416h1v1h-1zM601 416h1v1h-1zM602 416h1v1h-1zM603 416h1v1h-1zM604 416h1v1h-1zM605 416h1v1h-1zM606 416h1v1h-1zM607 416h1v1h-1zM608 416h1v1h-1zM609 416h1v1h-1zM610 416h1v1h-1zM611 416h1v1h-1zM612 416h1v1h-1zM613 416h1v1h-1zM614 416h1v1h-1zM615 416h1v1h-1zM616 416h1v1h-1zM617 416h1v1h-1zM618 416h1v1h-1zM619 416h1v1h-1zM620 416h1v1h-1zM621 416h1v1h-1zM622 416h1v1h-1zM623 416h1v1h-1zM624 416h1v1h-1zM625 416h1v1h-1zM626 416h1v1h-1zM627 416h1v1h-1zM628 416h1v1h-1zM629 415h1v1h-1zM630 415h1v1h-1zM631 415h1v1h-1zM632 415h1v1h-1zM633 415h1v1h-1zM634 415h1v1h-1zM635 415h1v1h-1zM636 415h1v1h-1zM637 415h1v1h-1zM638 415h1v1h-1zM639 415h1v1h-1zM640 415h1v1h-1zM641 415h1v1h-1zM642 415h1v1h-1zM643 415h1v1h-1zM644 415h1v1h-1zM645 415h1v1h-1zM646 415h1v1h-1zM647 415h1v1h-1zM648 415h1v1h-1zM649 415h1v1h-1zM650 415h1v1h-1zM651 415h1v1h-1zM652 415h1v1h-1zM653 414h1v1h-1zM654 414h1v1h-1zM655 414h1v1h-1zM656 414h1v1h-1zM657 414h1v1h-1zM658 414h1v1h-1zM659 414h1v1h-1zM660 414h1v1h-1zM661 414h1v1h-1zM662 414h1v1h-1zM663 414h1v1h-1zM664 414h1v1h-1zM665 414h1v1h-1zM666 414h1v1h-1zM667 414h1v1h-1zM668 414h1v1h-1zM669 413h1v1h-1zM670 413h1v1h-1zM671 413h1v1h-1zM672 413h1v1h-1zM673 413h1v1h-1zM674 413h1v1h-1zM675 413h1v1h-1zM676 413h1v1h-1zM677 413h1v1h-1zM678 413h1v1h-1zM679 413h1v1h-1zM680 413h1v1h-1zM681 413h1v1h-1zM682 413h1v1h-1zM683 413h1v1h-1zM684 413h1v1h-1zM685 413h1v1h-1zM686 413h1v1h-1zM687 413h1v1h-1zM688 413h1v1h-1zM689 413h1v1h-1zM690 413h1v1h-1zM691 413h1v1h-1zM692 413h1v1h-1zM693 414h1v1h-1zM694 414h1v1h-1zM695 414h1v1h-1zM696 414h1v1h-1zM697 414h1v1h-1zM698 414h1v1h-1zM699 414h1v1h-1zM700 414h1v1h-1zM701 415h1v1h-1zM702 415h1v1h-1zM703 415h1v1h-1zM704 415h1v1h-1zM705 415h1v1h-1zM706 415h1v1h-1zM707 415h1v1h-1zM708 415h1v1h-1zM709 416h1v1h-1zM710 416h1v1h-1zM711 416h1v1h-1zM712 416h1v1h-1zM713 416h1v1h-1zM714 416h1v1h-1zM715 417h1v1h-1zM716 417h1v1h-1zM717 417h1v1h-1zM718 417h1v1h-1zM719 418h1v1h-1zM720 418h1v1h-1zM721 418h1v1h-1zM722 418h1v1h-1zM723 418h1v1h-1zM724 418h1v1h-1zM725 419h1v1h-1zM726 419h1v1h-1zM727 419h1v1h-1zM728 419h1v1h-1zM729 419h1v1h-1zM730 419h1v1h-1zM731 419h1v1h-1zM732 419h1v1h-1zM733 420h1v1h-1zM734 420h1v1h-1zM735 420h1v1h-1zM736 420h1v1h-1zM737 420h1v1h-1zM738 420h1v1h-1zM739 420h1v1h-1zM740 420h1v1h-1zM741 420h1v1h-1zM742 420h1v1h-1zM743 420h1v1h-1zM744 420h1v1h-1zM745 420h1v1h-1zM746 420h1v1h-1zM747 420h1v1h-1zM748 420h1v1h-1zM749 421h1v1h-1zM750 421h1v1h-1zM751 421h1v1h-1zM752 421h1v1h-1zM753 421h1v1h-1zM754 421h1v1h-1zM755 421h1v1h-1zM756 421h1v1h-1zM757 422h1v1h-1zM758 422h1v1h-1zM759 422h1v1h-1zM760 422h1v1h-1zM761 422h1v1h-1zM762 422h1v1h-1zM763 422h1v1h-1zM764 422h1v1h-1zM765 423h1v1h-1zM766 423h1v1h-1zM767 423h1v1h-1zM768 423h1v1h-1zM769 423h1v1h-1zM770 423h1v1h-1zM771 423h1v1h-1zM772 423h1v1h-1zM773 424h1v1h-1zM774 424h1v1h-1zM775 424h1v1h-1zM776 424h1v1h-1zM777 424h1v1h-1zM778 424h1v1h-1zM779 424h1v1h-1zM780 424h1v1h-1zM781 424h1v1h-1zM782 424h1v1h-1zM783 424h1v1h-1zM784 424h1v1h-1zM785 424h1v1h-1zM786 424h1v1h-1zM787 425h1v1h-1zM788 425h1v1h-1zM789 425h1v1h-1zM790 425h1v1h-1zM791 426h1v1h-1zM792 426h1v1h-1zM793 426h1v1h-1zM794 426h1v1h-1zM795 426h1v1h-1zM796 426h1v1h-1zM797 426h1v1h-1zM798 426h1v1h-1zM799 426h1v1h-1zM800 426h1v1h-1zM801 426h1v1h-1zM802 426h1v1h-1zM803 426h1v1h-1zM804 426h1v1h-1zM805 427h1v1h-1zM806 427h1v1h-1zM807 427h1v1h-1zM808 427h1v1h-1zM809 427h1v1h-1zM810 427h1v1h-1zM811 427h1v1h-1zM812 427h1v1h-1zM813 428h1v1h-1zM814 428h1v1h-1zM815 428h1v1h-1zM816 428h1v1h-1zM817 428h1v1h-1zM818 428h1v1h-1zM819 428h1v1h-1zM820 428h1v1h-1zM821 428h1v1h-1zM822 428h1v1h-1zM823 428h1v1h-1zM824 428h1v1h-1zM825 428h1v1h-1zM826 428h1v1h-1zM827 429h1v1h-1zM828 429h1v1h-1zM829 429h1v1h-1zM830 429h1v1h-1zM831 430h1v1h-1zM832 430h1v1h-1zM833 430h1v1h-1zM834 430h1v1h-1zM835 430h1v1h-1zM836 430h1v1h-1zM837 430h1v1h-1zM838 430h1v1h-1zM839 430h1v1h-1zM840 430h1v1h-1zM841 430h1v1h-1zM842 430h1v1h-1zM843 430h1v1h-1zM844 430h1v1h-1zM845 430h1v1h-1zM846 430h1v1h-1zM847 430h1v1h-1zM848 430h1v1h-1zM849 430h1v1h-1zM850 430h1v1h-1zM851 430h1v1h-1zM852 430h1v1h-1zM853 431h1v1h-1zM854 431h1v1h-1zM855 431h1v1h-1zM856 431h1v1h-1zM857 431h1v1h-1zM858 431h1v1h-1zM859 431h1v1h-1zM860 431h1v1h-1zM861 431h1v1h-1zM862 431h1v1h-1zM863 431h1v1h-1zM864 431h1v1h-1zM865 431h1v1h-1zM866 431h1v1h-1zM867 431h1v1h-1zM868 431h1v1h-1zM869 430h1v1h-1zM870 430h1v1h-1zM871 430h1v1h-1zM872 430h1v1h-1zM873 430h1v1h-1zM874 430h1v1h-1zM875 430h1v1h-1zM876 430h1v1h-1zM877 430h1v1h-1zM878 430h1v1h-1zM879 430h1v1h-1zM880 430h1v1h-1zM881 430h1v1h-1zM882 430h1v1h-1zM883 430h1v1h-1zM884 430h1v1h-1zM885 431h1v1h-1zM886 431h1v1h-1zM887 431h1v1h-1zM888 431h1v1h-1zM889 431h1v1h-1zM890 431h1v1h-1zM891 431h1v1h-1zM892 431h1v1h-1zM893 431h1v1h-1zM894 431h1v1h-1zM895 431h1v1h-1zM896 431h1v1h-1zM897 431h1v1h-1zM898 431h1v1h-1zM899 431h1v1h-1zM900 431h1v1h-1zM901 431h1v1h-1zM902 431h1v1h-1zM903 431h1v1h-1zM904 431h1v1h-1zM905 431h1v1h-1zM906 431h1v1h-1zM907 431h1v1h-1zM908 431h1v1h-1zM909 431h1v1h-1zM910 431h1v1h-1zM911 431h1v1h-1zM912 431h1v1h-1zM913 431h1v1h-1zM914 431h1v1h-1zM915 431h1v1h-1zM916 431h1v1h-1zM917 431h1v1h-1zM918 431h1v1h-1zM919 431h1v1h-1zM920 431h1v1h-1zM921 431h1v1h-1zM922 431h1v1h-1zM923 431h1v1h-1zM924 431h1v1h-1zM925 431h1v1h-1zM926 431h1v1h-1zM927 431h1v1h-1zM928 431h1v1h-1zM929 431h1v1h-1zM930 431h1v1h-1zM931 431h1v1h-1zM932 431h1v1h-1zM933 430h1v1h-1zM934 430h1v1h-1zM935 430h1v1h-1zM936 430h1v1h-1zM937 430h1v1h-1zM938 430h1v1h-1zM939 430h1v1h-1zM940 430h1v1h-1zM941 429h1v1h-1zM942 429h1v1h-1zM943 429h1v1h-1zM944 429h1v1h-1zM945 429h1v1h-1zM946 429h1v1h-1zM947 428h1v1h-1zM948 428h1v1h-1zM949 428h1v1h-1zM950 428h1v1h-1zM951 427h1v1h-1zM952 427h1v1h-1zM953 427h1v1h-1zM954 427h1v1h-1zM955 427h1v1h-1zM956 427h1v1h-1zM957 426h1v1h-1zM958 426h1v1h-1zM959 426h1v1h-1zM960 426h1v1h-1zM961 426h1v1h-1zM962 426h1v1h-1zM963 425h1v1h-1zM964 425h1v1h-1zM965 425h1v1h-1zM966 425h1v1h-1zM967 424h1v1h-1zM968 424h1v1h-1zM969 424h1v1h-1zM970 424h1v1h-1zM971 424h1v1h-1zM972 424h1v1h-1zM973 423h1v1h-1zM974 423h1v1h-1zM975 423h1v1h-1zM976 423h1v1h-1zM977 423h1v1h-1zM978 423h1v1h-1zM979 423h1v1h-1zM980 423h1v1h-1zM981 422h1v1h-1zM982 422h1v1h-1zM983 422h1v1h-1zM984 422h1v1h-1zM985 422h1v1h-1zM986 422h1v1h-1zM987 422h1v1h-1zM988 422h1v1h-1zM989 421h1v1h-1zM990 421h1v1h-1zM991 421h1v1h-1zM992 421h1v1h-1zM993 421h1v1h-1zM994 421h1v1h-1zM995 421h1v1h-1zM996 421h1v1h-1zM997 421h1v1h-1zM998 421h1v1h-1zM999 421h1v1h-1zM1000 421h1v1h-1zM1001 421h1v1h-1zM1002 421h1v1h-1zM1003 421h1v1h-1zM1004 421h1v1h-1zM1005 421h1v1h-1zM1006 421h1v1h-1zM1007 421h1v1h-1zM1008 421h1v1h-1zM1009 421h1v1h-1zM1010 421h1v1h-1zM1011 421h1v1h-1zM1012 421h1v1h-1zM1013 421h1v1h-1zM1014 421h1v1h-1zM1015 421h1v1h-1zM1016 421h1v1h-1zM1017 421h1v1h-1zM1018 421h1v1h-1zM1019 421h1v1h-1zM1020 421h1v1h-1zM1021 422h1v1h-1zM1022 422h1v1h-1zM1023 422h1v1h-1zM1024 422h1v1h-1zM1025 422h1v1h-1z" fill="#ff0000"/>
<text x="13" y="414.3" font-size="9.9" fill="#000" textLength="154" lengthAdjust="spacingAndGlyphs">MACD(12,26,9) -0.003407 -0.001358</text>
<rect x="1301" y="404" width="2" height="1" fill="#000"/>
<text x="1304" y="412.3" font-size="9.9" fill="#000" textLength="39" lengthAdjust="spacingAndGlyphs">0.008761</text>
<rect x="1301" y="419" width="2" height="1" fill="#000"/>
<text x="1304" y="422.5" font-size="9.9" fill="#000" textLength="19.5" lengthAdjust="spacingAndGlyphs">0.00</text>
<text x="1304" y="466" font-size="9.9" fill="#000" textLength="42" lengthAdjust="spacingAndGlyphs">-0.027605</text>
<rect x="8" y="471" width="1293" height="1" fill="#000"/>
<rect x="8" y="541" width="1293" height="1" fill="#000"/>
<rect x="8" y="471" width="1" height="71" fill="#000"/>
<rect x="1300" y="471" width="1" height="71" fill="#000"/>
<line x1="10" y1="493.5" x2="1300" y2="493.5" stroke="#c0c0c0" stroke-width="1" stroke-dasharray="3,3" shape-rendering="crispEdges"/>
<line x1="10" y1="520.5" x2="1300" y2="520.5" stroke="#c0c0c0" stroke-width="1" stroke-dasharray="3,3" shape-rendering="crispEdges"/>
<path d="M9 525h1v1h-1zM10 525h1v1h-1zM11 525h1v1h-1zM12 525h1v1h-1zM13 525h1v1h-1zM14 525h1v1h-1zM15 525h1v1h-1zM16 525h1v1h-1zM17 525h1v1h-1zM18 524h1v1h-1zM19 524h1v1h-1zM20 523h1v1h-1zM21 522h1v1h-1zM22 522h1v1h-1zM23 521h1v1h-1zM24 521h1v1h-1zM25 520h1v1h-1zM26 519h1v1h-1zM27 519h1v1h-1zM28 518h1v1h-1zM29 517h1v1h-1zM30 517h1v1h-1zM31 516h1v1h-1zM32 516h1v1h-1zM33 515h1v1h-1zM34 515h1v1h-1zM35 515h1v1h-1zM36 515h1v1h-1zM37 515h1v1h-1zM38 515h1v1h-1zM39 515h1v1h-1zM40 515h1v1h-1zM41 515h1v1h-1zM42 515h1v1h-1zM43 516h1v1h-1zM44 516h1v1h-1zM45 516h1v1h-1zM46 516h1v1h-1zM47 517h1v1h-1zM48 517h1v1h-1zM49 517h1v1h-1zM50 517h1v1h-1zM51 516h1v1h-1zM52 516h1v1h-1zM53 516h1v1h-1zM54 516h1v1h-1zM55 515h1v1h-1zM56 515h1v1h-1zM57 515h1v1h-1zM58 515h1v1h-1zM59 515h1v1h-1zM60 515h1v1h-1zM61 515h1v1h-1zM62 515h1v1h-1zM63 515h1v1h-1zM64 515h1v1h-1zM65 515h1v1h-1zM66 515h1v1h-1zM67 514h1v1h-1zM68 514h1v1h-1zM69 514h1v1h-1zM70 514h1v1h-1zM71 513h1v1h-1zM72 513h1v1h-1zM73 513h1v1h-1zM74 512h1v1h-1zM75 511h1v1h-1zM76 510h1v1h-1zM77 509h1v1h-1zM78 509h1v1h-1zM79 508h1v1h-1zM80 507h1v1h-1zM81 506h1v1h-1zM82 506h1v1h-1zM83 506h1v1h-1zM84 506h1v1h-1zM85 506h1v1h-1zM86 506h1v1h-1zM87 506h1v1h-1zM88 506h1v1h-1zM89 506h1v1h-1zM90 506h1v1h-1zM91 505h1v1h-1zM92 505h1v1h-1zM93 504h1v1h-1zM94 504h1v1h-1zM95 504h1v1h-1zM96 503h1v1h-1zM97 503h1v1h-1zM98 503h1v1h-1zM99 504h1v1h-1zM100 504h1v1h-1zM101 505h1v1h-1zM102 505h1v1h-1zM103 505h1v1h-1zM104 506h1v1h-1zM105 506h1v1h-1zM106 506h1v1h-1zM107 506h1v1h-1zM108 506h1v1h-1zM109 506h1v1h-1zM110 506h1v1h-1zM111 506h1v1h-1zM112 506h1v1h-1zM113 506h1v1h-1zM114 506h1v1h-1zM115 507h1v1h-1zM116 507h1v1h-1zM117 508h1v1h-1zM118 508h1v1h-1zM119 508h1v1h-1zM120 509h1v1h-1zM121 509h1v1h-1zM122 509h1v1h-1zM123 510h1v1h-1zM124 510h1v1h-1zM125 510h1v1h-1zM126 510h1v1h-1zM127 511h1v1h-1zM128 511h1v1h-1zM129 511h1v1h-1zM130 510h1v1h-1zM131 510h1v1h-1zM132 509h1v1h-1zM133 509h1v1h-1zM134 508h1v1h-1zM135 508h1v1h-1zM136 507h1v1h-1zM137 507h1v1h-1zM138 507h1v1h-1zM139 506h1v1h-1zM140 506h1v1h-1zM141 506h1v1h-1zM142 506h1v1h-1zM143 505h1v1h-1zM144 505h1v1h-1zM145 505h1v1h-1zM146 505h1v1h-1zM147 506h1v1h-1zM148 506h1v1h-1zM149 506h1v1h-1zM150 506h1v1h-1zM151 507h1v1h-1zM152 507h1v1h-1zM153 507h1v1h-1zM154 507h1v1h-1zM155 507h1v1h-1zM156 507h1v1h-1zM157 507h1v1h-1zM158 507h1v1h-1zM159 507h1v1h-1zM160 507h1v1h-1zM161 507h1v1h-1zM162 507h1v1h-1zM163 507h1v1h-1zM164 507h1v1h-1zM165 507h1v1h-1zM166 507h1v1h-1zM167 507h1v1h-1zM168 507h1v1h-1zM169 507h1v1h-1zM170 506h1v1h-1zM171 506h1v1h-1zM172 505h1v1h-1zM173 504h1v1h-1zM174 504h1v1h-1zM175 503h1v1h-1zM176 503h1v1h-1zM177 502h1v1h-1zM178 501h1v1h-1zM179 501h1v1h-1zM180 500h1v1h-1zM181 500h1v1h-1zM182 499h1v1h-1zM183 499h1v1h-1zM184 498h1v1h-1zM185 498h1v1h-1zM186 498h1v1h-1zM187 498h1v1h-1zM188 498h1v1h-1zM189 498h1v1h-1zM190 498h1v1h-1zM191 498h1v1h-1zM192 498h1v1h-1zM193 498h1v1h-1zM194 498h1v1h-1zM195 497h1v1h-1zM196 497h1v1h-1zM197 497h1v1h-1zM198 497h1v1h-1zM199 496h1v1h-1zM200 496h1v1h-1zM201 496h1v1h-1zM202 496h1v1h-1zM203 497h1v1h-1zM204 497h1v1h-1zM205 497h1v1h-1zM206 497h1v1h-1zM207 498h1v1h-1zM208 498h1v1h-1zM209 498h1v1h-1zM210 498h1v1h-1zM211 498h1v1h-1zM212 498h1v1h-1zM213 498h1v1h-1zM214 498h1v1h-1zM215 498h1v1h-1zM216 498h1v1h-1zM217 498h1v1h-1zM218 499h1v1h-1zM219 500h1v1h-1zM220 500h1v1h-1zM221 501h1v1h-1zM222 502h1v1h-1zM223 503h1v1h-1zM224 503h1v1h-1zM225 504h1v1h-1zM226 504h1v1h-1zM227 504h1v1h-1zM228 504h1v1h-1zM229 503h1v1h-1zM230 503h1v1h-1zM231 503h1v1h-1zM232 503h1v1h-1zM233 503h1v1h-1zM234 504h1v1h-1zM235 504h1v1h-1zM236 505h1v1h-1zM237 505h1v1h-1zM238 506h1v1h-1zM239 506h1v1h-1zM240 507h1v1h-1zM241 507h1v1h-1zM242 506h1v1h-1zM243 506h1v1h-1zM244 505h1v1h-1zM245 505h1v1h-1zM246 504h1v1h-1zM247 504h1v1h-1zM248 503h1v1h-1zM249 503h1v1h-1zM250 503h1v1h-1zM251 503h1v1h-1zM252 503h1v1h-1zM253 504h1v1h-1zM254 504h1v1h-1zM255 504h1v1h-1zM256 504h1v1h-1zM257 504h1v1h-1zM258 505h1v1h-1zM259 505h1v1h-1zM260 506h1v1h-1zM261 506h1v1h-1zM262 507h1v1h-1zM263 507h1v1h-1zM264 508h1v1h-1zM265 508h1v1h-1zM266 508h1v1h-1zM267 509h1v1h-1zM268 509h1v1h-1zM269 509h1v1h-1zM270 509h1v1h-1zM271 510h1v1h-1zM272 510h1v1h-1zM273 510h1v1h-1zM274 510h1v1h-1zM275 510h1v1h-1zM276 510h1v1h-1zM277 509h1v1h-1zM278 509h1v1h-1zM279 509h1v1h-1zM280 509h1v1h-1zM281 509h1v1h-1zM282 509h1v1h-1zM283 509h1v1h-1zM284 509h1v1h-1zM285 509h1v1h-1zM286 509h1v1h-1zM287 509h1v1h-1zM288 509h1v1h-1zM289 509h1v1h-1zM290 510h1v1h-1zM291 510h1v1h-1zM292 511h1v1h-1zM293 512h1v1h-1zM294 512h1v1h-1zM295 513h1v1h-1zM296 513h1v1h-1zM297 514h1v1h-1zM298 514h1v1h-1zM299 514h1v1h-1zM300 514h1v1h-1zM301 515h1v1h-1zM302 515h1v1h-1zM303 515h1v1h-1zM304 515h1v1h-1zM305 515h1v1h-1zM306 515h1v1h-1zM307 515h1v1h-1zM308 515h1v1h-1zM309 516h1v1h-1zM310 516h1v1h-1zM311 516h1v1h-1zM312 516h1v1h-1zM313 516h1v1h-1zM314 516h1v1h-1zM315 515h1v1h-1zM316 515h1v1h-1zM317 515h1v1h-1zM318 515h1v1h-1zM319 514h1v1h-1zM320 514h1v1h-1zM321 514h1v1h-1zM322 515h1v1h-1zM323 515h1v1h-1zM324 516h1v1h-1zM325 516h1v1h-1zM326 517h1v1h-1zM327 517h1v1h-1zM328 518h1v1h-1zM329 518h1v1h-1zM330 517h1v1h-1zM331 516h1v1h-1zM332 515h1v1h-1zM333 514h1v1h-1zM334 513h1v1h-1zM335 512h1v1h-1zM336 511h1v1h-1zM337 510h1v1h-1zM338 510h1v1h-1zM339 509h1v1h-1zM340 509h1v1h-1zM341 508h1v1h-1zM342 508h1v1h-1zM343 508h1v1h-1zM344 507h1v1h-1zM345 507h1v1h-1zM346 507h1v1h-1zM347 508h1v1h-1zM348 508h1v1h-1zM349 508h1v1h-1zM350 508h1v1h-1zM351 509h1v1h-1zM352 509h1v1h-1zM353 509h1v1h-1zM354 509h1v1h-1zM355 509h1v1h-1zM356 509h1v1h-1zM357 508h1v1h-1zM358 508h1v1h-1zM359 508h1v1h-1zM360 508h1v1h-1zM361 508h1v1h-1zM362 508h1v1h-1zM363 507h1v1h-1zM364 507h1v1h-1zM365 507h1v1h-1zM366 507h1v1h-1zM367 506h1v1h-1zM368 506h1v1h-1zM369 506h1v1h-1zM370 505h1v1h-1zM371 505h1v1h-1zM372 504h1v1h-1zM373 504h1v1h-1zM374 503h1v1h-1zM375 503h1v1h-1zM376 502h1v1h-1zM377 502h1v1h-1zM378 502h1v1h-1zM379 501h1v1h-1zM380 501h1v1h-1zM381 501h1v1h-1zM382 501h1v1h-1zM383 500h1v1h-1zM384 500h1v1h-1zM385 500h1v1h-1zM386 500h1v1h-1zM387 500h1v1h-1zM388 500h1v1h-1zM389 500h1v1h-1zM390 500h1v1h-1zM391 500h1v1h-1zM392 500h1v1h-1zM393 500h1v1h-1zM394 500h1v1h-1zM395 500h1v1h-1zM396 500h1v1h-1zM397 500h1v1h-1zM398 500h1v1h-1zM399 500h1v1h-1zM400 500h1v1h-1zM401 500h1v1h-1zM402 501h1v1h-1zM403 501h1v1h-1zM404 502h1v1h-1zM405 502h1v1h-1zM406 503h1v1h-1zM407 503h1v1h-1zM408 504h1v1h-1zM409 504h1v1h-1zM410 504h1v1h-1zM411 504h1v1h-1zM412 504h1v1h-1zM413 503h1v1h-1zM414 503h1v1h-1zM415 503h1v1h-1zM416 503h1v1h-1zM417 503h1v1h-1zM418 503h1v1h-1zM419 503h1v1h-1zM420 503h1v1h-1zM421 504h1v1h-1zM422 504h1v1h-1zM423 504h1v1h-1zM424 504h1v1h-1zM425 504h1v1h-1zM426 504h1v1h-1zM427 503h1v1h-1zM428 503h1v1h-1zM429 503h1v1h-1zM430 503h1v1h-1zM431 502h1v1h-1zM432 502h1v1h-1zM433 502h1v1h-1zM434 502h1v1h-1zM435 502h1v1h-1zM436 502h1v1h-1zM437 503h1v1h-1zM438 503h1v1h-1zM439 503h1v1h-1zM440 503h1v1h-1zM441 503h1v1h-1zM442 503h1v1h-1zM443 503h1v1h-1zM444 503h1v1h-1zM445 504h1v1h-1zM446 504h1v1h-1zM447 504h1v1h-1zM448 504h1v1h-1zM449 504h1v1h-1zM450 504h1v1h-1zM451 505h1v1h-1zM452 505h1v1h-1zM453 506h1v1h-1zM454 506h1v1h-1zM455 506h1v1h-1zM456 507h1v1h-1zM457 507h1v1h-1zM458 507h1v1h-1zM459 506h1v1h-1zM460 506h1v1h-1zM461 505h1v1h-1zM462 505h1v1h-1zM463 505h1v1h-1zM464 504h1v1h-1zM465 504h1v1h-1zM466 505h1v1h-1zM467 505h1v1h-1zM468 506h1v1h-1zM469 506h1v1h-1zM470 507h1v1h-1zM471 507h1v1h-1zM472 508h1v1h-1zM473 508h1v1h-1zM474 507h1v1h-1zM475 507h1v1h-1zM476 506h1v1h-1zM477 506h1v1h-1zM478 505h1v1h-1zM479 505h1v1h-1zM480 504h1v1h-1zM481 504h1v1h-1zM482 504h1v1h-1zM483 505h1v1h-1zM484 505h1v1h-1zM485 506h1v1h-1zM486 506h1v1h-1zM487 506h1v1h-1zM488 507h1v1h-1zM489 507h1v1h-1zM490 507h1v1h-1zM491 507h1v1h-1zM492 507h1v1h-1zM493 508h1v1h-1zM494 508h1v1h-1zM495 508h1v1h-1zM496 508h1v1h-1zM497 508h1v1h-1zM498 508h1v1h-1zM499 508h1v1h-1zM500 508h1v1h-1zM501 509h1v1h-1zM502 509h1v1h-1zM503 509h1v1h-1zM504 509h1v1h-1zM505 509h1v1h-1zM506 508h1v1h-1zM507 508h1v1h-1zM508 507h1v1h-1zM509 507h1v1h-1zM510 506h1v1h-1zM511 506h1v1h-1zM512 505h1v1h-1zM513 505h1v1h-1zM514 505h1v1h-1zM515 505h1v1h-1zM516 505h1v1h-1zM517 505h1v1h-1zM518 505h1v1h-1zM519 505h1v1h-1zM520 505h1v1h-1zM521 505h1v1h-1zM522 505h1v1h-1zM523 506h1v1h-1zM524 506h1v1h-1zM525 506h1v1h-1zM526 506h1v1h-1zM527 507h1v1h-1zM528 507h1v1h-1zM529 507h1v1h-1zM530 506h1v1h-1zM531 506h1v1h-1zM532 505h1v1h-1zM533 504h1v1h-1zM534 504h1v1h-1zM535 503h1v1h-1zM536 503h1v1h-1zM537 502h1v1h-1zM538 502h1v1h-1zM539 502h1v1h-1zM540 502h1v1h-1zM541 501h1v1h-1zM542 501h1v1h-1zM543 501h1v1h-1zM544 501h1v1h-1zM545 501h1v1h-1zM546 501h1v1h-1zM547 501h1v1h-1zM548 501h1v1h-1zM549 500h1v1h-1zM550 500h1v1h-1zM551 500h1v1h-1zM552 500h1v1h-1zM553 500h1v1h-1zM554 500h1v1h-1zM555 501h1v1h-1zM556 501h1v1h-1zM557 501h1v1h-1zM558 501h1v1h-1zM559 502h1v1h-1zM560 502h1v1h-1zM561 502h1v1h-1zM562 503h1v1h-1zM563 504h1v1h-1zM564 505h1v1h-1zM565 506h1v1h-1zM566 507h1v1h-1zM567 508h1v1h-1zM568 509h1v1h-1zM569 510h1v1h-1zM570 509h1v1h-1zM571 509h1v1h-1zM572 508h1v1h-1zM573 507h1v1h-1zM574 507h1v1h-1zM575 506h1v1h-1zM576 506h1v1h-1zM577 505h1v1h-1zM578 505h1v1h-1zM579 506h1v1h-1zM580 506h1v1h-1zM581 507h1v1h-1zM582 507h1v1h-1zM583 507h1v1h-1zM584 508h1v1h-1zM585 508h1v1h-1zM586 508h1v1h-1zM587 508h1v1h-1zM588 508h1v1h-1zM589 507h1v1h-1zM590 507h1v1h-1zM591 507h1v1h-1zM592 507h1v1h-1zM593 507h1v1h-1zM594 507h1v1h-1zM595 507h1v1h-1zM596 507h1v1h-1zM597 507h1v1h-1zM598 507h1v1h-1zM599 507h1v1h-1zM600 507h1v1h-1zM601 507h1v1h-1zM602 506h1v1h-1zM603 506h1v1h-1zM604 505h1v1h-1zM605 504h1v1h-1zM606 504h1v1h-1zM607 503h1v1h-1zM608 503h1v1h-1zM609 502h1v1h-1zM610 502h1v1h-1zM611 502h1v1h-1zM612 502h1v1h-1zM613 501h1v1h-1zM614 501h1v1h-1zM615 501h1v1h-1zM616 501h1v1h-1zM617 501h1v1h-1zM618 501h1v1h-1zM619 501h1v1h-1zM620 501h1v1h-1zM621 500h1v1h-1zM622 500h1v1h-1zM623 500h1v1h-1zM624 500h1v1h-1zM625 500h1v1h-1zM626 500h1v1h-1zM627 499h1v1h-1zM628 499h1v1h-1zM629 498h1v1h-1zM630 498h1v1h-1zM631 498h1v1h-1zM632 497h1v1h-1zM633 497h1v1h-1zM634 498h1v1h-1zM635 499h1v1h-1zM636 500h1v1h-1zM637 501h1v1h-1zM638 502h1v1h-1zM639 503h1v1h-1zM640 504h1v1h-1zM641 505h1v1h-1zM642 505h1v1h-1zM643 505h1v1h-1zM644 505h1v1h-1zM645 504h1v1h-1zM646 504h1v1h-1zM647 504h1v1h-1zM648 504h1v1h-1zM649 504h1v1h-1zM650 504h1v1h-1zM651 504h1v1h-1zM652 504h1v1h-1zM653 504h1v1h-1zM654 504h1v1h-1zM655 504h1v1h-1zM656 504h1v1h-1zM657 504h1v1h-1zM658 504h1v1h-1zM659 504h1v1h-1zM660 504h1v1h-1zM661 505h1v1h-1zM662 505h1v1h-1zM663 505h1v1h-1zM664 505h1v1h-1zM665 505h1v1h-1zM666 505h1v1h-1zM667 506h1v1h-1zM668 506h1v1h-1zM669 506h1v1h-1zM670 506h1v1h-1zM671 507h1v1h-1zM672 507h1v1h-1zM673 507h1v1h-1zM674 507h1v1h-1zM675 507h1v1h-1zM676 507h1v1h-1zM677 507h1v1h-1zM678 507h1v1h-1zM679 507h1v1h-1zM680 507h1v1h-1zM681 507h1v1h-1zM682 507h1v1h-1zM683 508h1v1h-1zM684 508h1v1h-1zM685 509h1v1h-1zM686 509h1v1h-1zM687 509h1v1h-1zM688 510h1v1h-1zM689 510h1v1h-1zM690 510h1v1h-1zM691 509h1v1h-1zM692 509h1v1h-1zM693 509h1v1h-1zM694 509h1v1h-1zM695 508h1v1h-1zM696 508h1v1h-1zM697 508h1v1h-1zM698 509h1v1h-1zM699 509h1v1h-1zM700 510h1v1h-1zM701 510h1v1h-1zM702 511h1v1h-1zM703 511h1v1h-1zM704 512h1v1h-1zM705 512h1v1h-1zM706 512h1v1h-1zM707 511h1v1h-1zM708 511h1v1h-1zM709 510h1v1h-1zM710 510h1v1h-1zM711 510h1v1h-1zM712 509h1v1h-1zM713 509h1v1h-1zM714 510h1v1h-1zM715 510h1v1h-1zM716 511h1v1h-1zM717 511h1v1h-1zM718 512h1v1h-1zM719 512h1v1h-1zM720 513h1v1h-1zM721 513h1v1h-1zM722 512h1v1h-1zM723 512h1v1h-1zM724 511h1v1h-1zM725 510h1v1h-1zM726 510h1v1h-1zM727 509h1v1h-1zM728 509h1v1h-1zM729 508h1v1h-1zM730 508h1v1h-1zM731 508h1v1h-1zM732 508h1v1h-1zM733 508h1v1h-1zM734 508h1v1h-1zM735 508h1v1h-1zM736 508h1v1h-1zM737 508h1v1h-1zM738 508h1v1h-1zM739 508h1v1h-1zM740 508h1v1h-1zM741 508h1v1h-1zM742 508h1v1h-1zM743 508h1v1h-1zM744 508h1v1h-1zM745 508h1v1h-1zM746 508h1v1h-1zM747 507h1v1h-1zM748 507h1v1h-1zM749 507h1v1h-1zM750 507h1v1h-1zM751 506h1v1h-1zM752 506h1v1h-1zM753 506h1v1h-1zM754 507h1v1h-1zM755 508h1v1h-1zM756 509h1v1h-1zM757 510h1v1h-1zM758 511h1v1h-1zM759 512h1v1h-1zM760 513h1v1h-1zM761 514h1v1h-1zM762 514h1v1h-1zM763 513h1v1h-1zM764 513h1v1h-1zM765 513h1v1h-1zM766 513h1v1h-1zM767 512h1v1h-1zM768 512h1v1h-1zM769 512h1v1h-1zM770 512h1v1h-1zM771 513h1v1h-1zM772 513h1v1h-1zM773 514h1v1h-1zM774 514h1v1h-1zM775 514h1v1h-1zM776 515h1v1h-1zM777 515h1v1h-1zM778 515h1v1h-1zM779 515h1v1h-1zM780 515h1v1h-1zM781 515h1v1h-1zM782 515h1v1h-1zM783 515h1v1h-1zM784 515h1v1h-1zM785 515h1v1h-1zM786 515h1v1h-1zM787 516h1v1h-1zM788 516h1v1h-1zM789 517h1v1h-1zM790 517h1v1h-1zM791 517h1v1h-1zM792 518h1v1h-1zM793 518h1v1h-1zM794 518h1v1h-1zM795 518h1v1h-1zM796 518h1v1h-1zM797 517h1v1h-1zM798 517h1v1h-1zM799 517h1v1h-1zM800 517h1v1h-1zM801 517h1v1h-1zM802 516h1v1h-1zM803 515h1v1h-1zM804 514h1v1h-1zM805 513h1v1h-1zM806 513h1v1h-1zM807 512h1v1h-1zM808 511h1v1h-1zM809 510h1v1h-1zM810 510h1v1h-1zM811 510h1v1h-1zM812 510h1v1h-1zM813 509h1v1h-1zM814 509h1v1h-1zM815 509h1v1h-1zM816 509h1v1h-1zM817 509h1v1h-1zM818 509h1v1h-1zM819 509h1v1h-1zM820 509h1v1h-1zM821 510h1v1h-1zM822 510h1v1h-1zM823 510h1v1h-1zM824 510h1v1h-1zM825 510h1v1h-1zM826 510h1v1h-1zM827 510h1v1h-1zM828 510h1v1h-1zM829 510h1v1h-1zM830 510h1v1h-1zM831 510h1v1h-1zM832 510h1v1h-1zM833 510h1v1h-1zM834 510h1v1h-1zM835 510h1v1h-1zM836 510h1v1h-1zM837 511h1v1h-1zM838 511h1v1h-1zM839 511h1v1h-1zM840 511h1v1h-1zM841 511h1v1h-1zM842 511h1v1h-1zM843 512h1v1h-1zM844 512h1v1h-1zM845 512h1v1h-1zM846 512h1v1h-1zM847 513h1v1h-1zM848 513h1v1h-1zM849 513h1v1h-1zM850 513h1v1h-1zM851 514h1v1h-1zM852 514h1v1h-1zM853 514h1v1h-1zM854 514h1v1h-1zM855 515h1v1h-1zM856 515h1v1h-1zM857 515h1v1h-1zM858 515h1v1h-1zM859 515h1v1h-1zM860 515h1v1h-1zM861 516h1v1h-1zM862 516h1v1h-1zM863 516h1v1h-1zM864 516h1v1h-1zM865 516h1v1h-1zM866 516h1v1h-1zM867 516h1v1h-1zM868 516h1v1h-1zM869 515h1v1h-1zM870 515h1v1h-1zM871 515h1v1h-1zM872 515h1v1h-1zM873 515h1v1h-1zM874 515h1v1h-1zM875 515h1v1h-1zM876 515h1v1h-1zM877 516h1v1h-1zM878 516h1v1h-1zM879 516h1v1h-1zM880 516h1v1h-1zM881 516h1v1h-1zM882 515h1v1h-1zM883 515h1v1h-1zM884 514h1v1h-1zM885 514h1v1h-1zM886 513h1v1h-1zM887 513h1v1h-1zM888 512h1v1h-1zM889 512h1v1h-1zM890 512h1v1h-1zM891 513h1v1h-1zM892 513h1v1h-1zM893 514h1v1h-1zM894 514h1v1h-1zM895 514h1v1h-1zM896 515h1v1h-1zM897 515h1v1h-1zM898 515h1v1h-1zM899 514h1v1h-1zM900 514h1v1h-1zM901 514h1v1h-1zM902 514h1v1h-1zM903 513h1v1h-1zM904 513h1v1h-1zM905 513h1v1h-1zM906 512h1v1h-1zM907 512h1v1h-1zM908 511h1v1h-1zM909 510h1v1h-1zM910 510h1v1h-1zM911 509h1v1h-1zM912 509h1v1h-1zM913 508h1v1h-1zM914 508h1v1h-1zM915 507h1v1h-1zM916 507h1v1h-1zM917 507h1v1h-1zM918 507h1v1h-1zM919 506h1v1h-1zM920 506h1v1h-1zM921 506h1v1h-1zM922 506h1v1h-1zM923 506h1v1h-1zM924 506h1v1h-1zM925 505h1v1h-1zM926 505h1v1h-1zM927 505h1v1h-1zM928 505h1v1h-1zM929 505h1v1h-1zM930 505h1v1h-1zM931 504h1v1h-1zM932 504h1v1h-1zM933 503h1v1h-1zM934 503h1v1h-1zM935 503h1v1h-1zM936 502h1v1h-1zM937 502h1v1h-1zM938 502h1v1h-1zM939 502h1v1h-1zM940 502h1v1h-1zM941 503h1v1h-1zM942 503h1v1h-1zM943 503h1v1h-1zM944 503h1v1h-1zM945 503h1v1h-1zM946 503h1v1h-1zM947 502h1v1h-1zM948 502h1v1h-1zM949 502h1v1h-1zM950 502h1v1h-1zM951 501h1v1h-1zM952 501h1v1h-1zM953 501h1v1h-1zM954 502h1v1h-1zM955 502h1v1h-1zM956 503h1v1h-1zM957 503h1v1h-1zM958 504h1v1h-1zM959 504h1v1h-1zM960 505h1v1h-1zM961 505h1v1h-1zM962 505h1v1h-1zM963 506h1v1h-1zM964 506h1v1h-1zM965 506h1v1h-1zM966 506h1v1h-1zM967 507h1v1h-1zM968 507h1v1h-1zM969 507h1v1h-1zM970 507h1v1h-1zM971 507h1v1h-1zM972 507h1v1h-1zM973 506h1v1h-1zM974 506h1v1h-1zM975 506h1v1h-1zM976 506h1v1h-1zM977 506h1v1h-1zM978 507h1v1h-1zM979 508h1v1h-1zM980 508h1v1h-1zM981 509h1v1h-1zM982 510h1v1h-1zM983 511h1v1h-1zM984 511h1v1h-1zM985 512h1v1h-1zM986 512h1v1h-1zM987 511h1v1h-1zM988 511h1v1h-1zM989 510h1v1h-1zM990 510h1v1h-1zM991 510h1v1h-1zM992 509h1v1h-1zM993 509h1v1h-1zM994 509h1v1h-1zM995 509h1v1h-1zM996 509h1v1h-1zM997 508h1v1h-1zM998 508h1v1h-1zM999 508h1v1h-1zM1000 508h1v1h-1zM1001 508h1v1h-1zM1002 508h1v1h-1zM1003 509h1v1h-1zM1004 509h1v1h-1zM1005 510h1v1h-1zM1006 510h1v1h-1zM1007 510h1v1h-1zM1008 511h1v1h-1zM1009 511h1v1h-1zM1010 511h1v1h-1zM1011 512h1v1h-1zM1012 512h1v1h-1zM1013 513h1v1h-1zM1014 513h1v1h-1zM1015 513h1v1h-1zM1016 514h1v1h-1zM1017 514h1v1h-1zM1018 514h1v1h-1zM1019 514h1v1h-1zM1020 514h1v1h-1zM1021 514h1v1h-1zM1022 514h1v1h-1zM1023 514h1v1h-1zM1024 514h1v1h-1zM1025 514h1v1h-1z" fill="#1e90ff"/>
<text x="13" y="483.5" font-size="9.9" fill="#000" textLength="68.5" lengthAdjust="spacingAndGlyphs">RSI(14) 38.2620</text>
<rect x="1301" y="472" width="2" height="1" fill="#000"/>
<text x="1304" y="482" font-size="9.9" fill="#000" textLength="16.5" lengthAdjust="spacingAndGlyphs">100</text>
<rect x="1301" y="493" width="2" height="1" fill="#000"/>
<text x="1304" y="496.5" font-size="9.9" fill="#000" textLength="11" lengthAdjust="spacingAndGlyphs">70</text>
<rect x="1301" y="520" width="2" height="1" fill="#000"/>
<text x="1304" y="523.3" font-size="9.9" fill="#000" textLength="11" lengthAdjust="spacingAndGlyphs">30</text>
<text x="1304" y="537.5" font-size="9.9" fill="#000" textLength="5.5" lengthAdjust="spacingAndGlyphs">0</text>
<rect x="9" y="542" width="1" height="3" fill="#000"/>
<text x="8.2" y="554" font-size="9.9" fill="#000" textLength="47" lengthAdjust="spacingAndGlyphs">4 Dec 2018</text>
<rect x="73" y="542" width="1" height="3" fill="#000"/>
<text x="72.2" y="554" font-size="9.9" fill="#000" textLength="49.5" lengthAdjust="spacingAndGlyphs">6 Dec 04:00</text>
<rect x="137" y="542" width="1" height="3" fill="#000"/>
<text x="136.2" y="554" font-size="9.9" fill="#000" textLength="49.5" lengthAdjust="spacingAndGlyphs">7 Dec 12:00</text>
<rect x="201" y="542" width="1" height="3" fill="#000"/>
<text x="200.2" y="554" font-size="9.9" fill="#000" textLength="55.5" lengthAdjust="spacingAndGlyphs">10 Dec 20:00</text>
<rect x="265" y="542" width="1" height="3" fill="#000"/>
<text x="264.2" y="554" font-size="9.9" fill="#000" textLength="55.5" lengthAdjust="spacingAndGlyphs">12 Dec 04:00</text>
<rect x="329" y="542" width="1" height="3" fill="#000"/>
<text x="328.2" y="554" font-size="9.9" fill="#000" textLength="55.5" lengthAdjust="spacingAndGlyphs">13 Dec 12:00</text>
<rect x="393" y="542" width="1" height="3" fill="#000"/>
<text x="392.2" y="554" font-size="9.9" fill="#000" textLength="55.5" lengthAdjust="spacingAndGlyphs">14 Dec 20:00</text>
<rect x="457" y="542" width="1" height="3" fill="#000"/>
<text x="456.2" y="554" font-size="9.9" fill="#000" textLength="55.5" lengthAdjust="spacingAndGlyphs">18 Dec 08:00</text>
<rect x="521" y="542" width="1" height="3" fill="#000"/>
<text x="520.2" y="554" font-size="9.9" fill="#000" textLength="55.5" lengthAdjust="spacingAndGlyphs">19 Dec 16:00</text>
<rect x="585" y="542" width="1" height="3" fill="#000"/>
<text x="584.2" y="554" font-size="9.9" fill="#000" textLength="55.5" lengthAdjust="spacingAndGlyphs">21 Dec 00:00</text>
<rect x="649" y="542" width="1" height="3" fill="#000"/>
<text x="648.2" y="554" font-size="9.9" fill="#000" textLength="55.5" lengthAdjust="spacingAndGlyphs">24 Dec 12:00</text>
<rect x="713" y="542" width="1" height="3" fill="#000"/>
<text x="712.2" y="554" font-size="9.9" fill="#000" textLength="55.5" lengthAdjust="spacingAndGlyphs">26 Dec 16:00</text>
<rect x="777" y="542" width="1" height="3" fill="#000"/>
<text x="776.2" y="554" font-size="9.9" fill="#000" textLength="55.5" lengthAdjust="spacingAndGlyphs">28 Dec 00:00</text>
<rect x="841" y="542" width="1" height="3" fill="#000"/>
<text x="840.2" y="554" font-size="9.9" fill="#000" textLength="55.5" lengthAdjust="spacingAndGlyphs">31 Dec 12:00</text>
<rect x="905" y="542" width="1" height="3" fill="#000"/>
<text x="904.2" y="554" font-size="9.9" fill="#000" textLength="49.5" lengthAdjust="spacingAndGlyphs">2 Jan 16:00</text>
<rect x="969" y="542" width="1" height="3" fill="#000"/>
<text x="968.2" y="554" font-size="9.9" fill="#000" textLength="49.5" lengthAdjust="spacingAndGlyphs">4 Jan 00:00</text>
<rect x="4" y="564" width="1344" height="1" fill="#000"/>
<rect x="5" y="565" width="1" height="19" fill="#696969"/>
<rect x="0" y="584" width="6" height="1" fill="#ffffff"/>
<rect x="6" y="584" width="1342" height="1" fill="#fafafa"/>
<text x="21.2" y="579" font-size="12.2" fill="#6a6a7a" textLength="69.6" lengthAdjust="spacingAndGlyphs">EURUSD,H4</text>
<text x="112.2" y="579" font-size="12.2" fill="#6a6a7a" textLength="83.6" lengthAdjust="spacingAndGlyphs">AUDUSD,Daily</text>
<text x="215.2" y="579" font-size="12.2" fill="#6a6a7a" textLength="80.6" lengthAdjust="spacingAndGlyphs">USDCHF,Daily</text>
<text x="316.2" y="579" font-size="12.2" fill="#6a6a7a" textLength="82.6" lengthAdjust="spacingAndGlyphs">USDCAD,Daily</text>
<text x="511.0" y="579" font-size="12.2" fill="#6a6a7a" textLength="65.2" lengthAdjust="spacingAndGlyphs">USDJPY,H4</text>
<text x="596.2" y="579" font-size="12.2" fill="#6a6a7a" textLength="82.6" lengthAdjust="spacingAndGlyphs">XAUUSD,Daily</text>
<text x="700.2" y="579" font-size="12.2" fill="#6a6a7a" textLength="79.6" lengthAdjust="spacingAndGlyphs">GBPUSD,M15</text>
<text x="801.2" y="579" font-size="12.2" fill="#6a6a7a" textLength="65.6" lengthAdjust="spacingAndGlyphs">SP500,M15</text>
<rect x="102" y="567" width="1" height="14" fill="#646464"/>
<rect x="206" y="567" width="1" height="14" fill="#646464"/>
<rect x="306" y="567" width="1" height="14" fill="#646464"/>
<rect x="586" y="567" width="1" height="14" fill="#646464"/>
<rect x="690" y="567" width="1" height="14" fill="#646464"/>
<rect x="790" y="567" width="1" height="14" fill="#646464"/>
<rect x="878" y="567" width="1" height="14" fill="#646464"/>
<rect x="410" y="564" width="92" height="19" fill="#000"/>
<rect x="411" y="564" width="90" height="18" fill="#ffffff"/>
<text x="419.7" y="579" font-size="12.2" fill="#000" textLength="72" lengthAdjust="spacingAndGlyphs">USDCNH,H4</text>
<path d="M1319.5,569.5 L1319.5,576.5 L1315.5,573 Z" fill="#8a8a8a"/>
<path d="M1335,569.5 L1335,576.5 L1339,573 Z" fill="#8a8a8a"/>
<defs>
<linearGradient id="gbtn" x1="0" y1="0" x2="0" y2="1"><stop offset="0" stop-color="#5c5cf4"/><stop offset="1" stop-color="#3434e2"/></linearGradient>
<linearGradient id="gbox" x1="0" y1="0" x2="0" y2="1"><stop offset="0" stop-color="#3a3ae6"/><stop offset="1" stop-color="#0000aa"/></linearGradient>
<linearGradient id="gspin" x1="0" y1="0" x2="0" y2="1"><stop offset="0" stop-color="#f2f2f2"/><stop offset="0.45" stop-color="#ececec"/><stop offset="0.5" stop-color="#dcdcdc"/><stop offset="1" stop-color="#d4d4d4"/></linearGradient>
</defs>
<rect x="12" y="51" width="219" height="64" fill="#ffffff"/>
<rect x="12" y="51" width="52" height="25" fill="url(#gbtn)"/>
<rect x="12" y="51" width="52" height="1" fill="#2020c0"/>
<rect x="63" y="51" width="1" height="25" fill="#2020c0"/>
<rect x="12" y="51" width="1" height="25" fill="#2020c0"/>
<rect x="179" y="51" width="52" height="25" fill="url(#gbtn)"/>
<rect x="179" y="51" width="52" height="1" fill="#2020c0"/>
<rect x="179" y="51" width="1" height="25" fill="#2020c0"/>
<rect x="230" y="51" width="1" height="25" fill="#2020c0"/>
<rect x="12" y="75" width="109" height="40" fill="url(#gbox)"/>
<rect x="123" y="75" width="108" height="40" fill="url(#gbox)"/>
<rect x="12" y="75" width="109" height="1" fill="#1010b0"/>
<rect x="123" y="75" width="108" height="1" fill="#1010b0"/>
<rect x="16" y="75" width="44" height="1" fill="#8888f8"/>
<rect x="183" y="75" width="44" height="1" fill="#8888f8"/>
<rect x="66" y="51" width="111" height="22" fill="#a8a8a8"/>
<rect x="67" y="52" width="109" height="20" fill="#ffffff"/>
<rect x="68" y="53" width="19" height="18" fill="url(#gspin)"/>
<rect x="87" y="52" width="1" height="20" fill="#b0b0b0"/>
<rect x="155" y="52" width="1" height="20" fill="#b0b0b0"/>
<rect x="156" y="53" width="19" height="18" fill="url(#gspin)"/>
<path d="M74,59.5 L79,59.5 L76.5,62.5 Z" fill="#5a78c8"/>
<path d="M163,63 L168,63 L165.5,60 Z" fill="#5a78c8"/>
<text x="128" y="66" font-size="12" fill="#000" textLength="23.5" lengthAdjust="spacingAndGlyphs">0.01</text>
<text x="24.2" y="67" font-size="11.8" fill="#ffffff" textLength="26" lengthAdjust="spacingAndGlyphs">SELL</text>
<text x="192.3" y="67" font-size="11.8" fill="#ffffff" textLength="24" lengthAdjust="spacingAndGlyphs">BUY</text>
<text x="31.8" y="106" font-size="12.5" fill="#ffffff" textLength="25" lengthAdjust="spacingAndGlyphs" font-weight="bold">6.86</text>
<text x="142" y="106" font-size="12.5" fill="#ffffff" textLength="25" lengthAdjust="spacingAndGlyphs" font-weight="bold">6.86</text>
<text x="60" y="106" font-size="33" fill="#ffffff" textLength="35.5" lengthAdjust="spacingAndGlyphs">14</text>
<text x="170.8" y="106" font-size="33" fill="#ffffff" textLength="35.5" lengthAdjust="spacingAndGlyphs">38</text>
<text x="98.7" y="90" font-size="11" fill="#ffffff" textLength="7.5" lengthAdjust="spacingAndGlyphs" font-weight="bold">8</text>
<text x="209.5" y="90" font-size="11" fill="#ffffff" textLength="7.5" lengthAdjust="spacingAndGlyphs" font-weight="bold">8</text></svg>
</body></html>
